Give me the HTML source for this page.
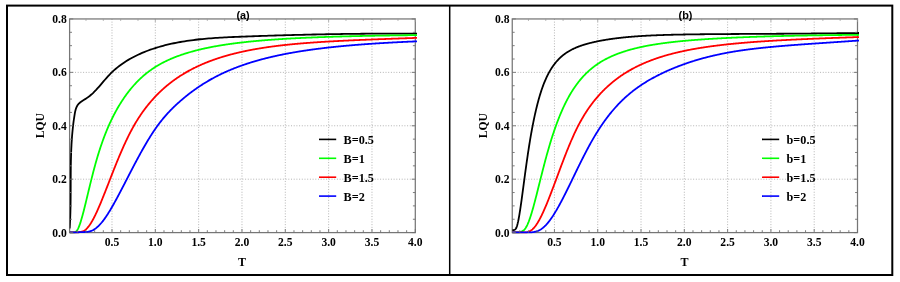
<!DOCTYPE html>
<html><head><meta charset="utf-8"><title>LQU</title>
<style>
html,body{margin:0;padding:0;background:#fff;}
svg{display:block}
text{filter:grayscale(1);}
.g{stroke:#b4b4b4;stroke-width:1;stroke-dasharray:1 1.7;}
.t{stroke:#6f6f6f;stroke-width:0.9;}
.t2{stroke:#9a9a9a;stroke-width:0.8;}
.tk{font-family:"Liberation Serif",serif;font-weight:bold;font-size:11.6px;fill:#000;}
.yl{font-family:"Liberation Serif",serif;font-weight:bold;font-size:11.5px;fill:#000;}
.al{font-family:"Liberation Serif",serif;font-weight:bold;font-size:12px;fill:#000;}
.lg{font-family:"Liberation Serif",serif;font-weight:bold;font-size:12.2px;fill:#000;}
.ti{font-family:"Liberation Sans",sans-serif;font-weight:bold;font-size:10.9px;fill:#000;}
</style></head><body>
<svg width="900" height="282" viewBox="0 0 900 282">
<rect x="0" y="0" width="900" height="282" fill="#fff"/>
<line x1="111.99" y1="18.95" x2="111.99" y2="232.6" class="g"/>
<line x1="155.32" y1="18.95" x2="155.32" y2="232.6" class="g"/>
<line x1="198.65" y1="18.95" x2="198.65" y2="232.6" class="g"/>
<line x1="241.98" y1="18.95" x2="241.98" y2="232.6" class="g"/>
<line x1="285.31" y1="18.95" x2="285.31" y2="232.6" class="g"/>
<line x1="328.64" y1="18.95" x2="328.64" y2="232.6" class="g"/>
<line x1="371.97" y1="18.95" x2="371.97" y2="232.6" class="g"/>
<line x1="69.6" y1="179.19" x2="415.3" y2="179.19" class="g"/>
<line x1="69.6" y1="125.77" x2="415.3" y2="125.77" class="g"/>
<line x1="69.6" y1="72.36" x2="415.3" y2="72.36" class="g"/>
<rect x="69.6" y="18.95" width="345.70000000000005" height="213.65" fill="none" stroke="#767676" stroke-width="1.25"/>
<clipPath id="cB"><rect x="69.69999999999999" y="16.95" width="347.30000000000007" height="216.85"/></clipPath>
<path d="M69.64,228.50 L69.78,226.29 L69.91,224.07 L70.02,221.86 L70.12,219.65 L70.21,217.43 L70.30,215.22 L70.37,213.01 L70.43,210.79 L70.48,208.58 L70.53,206.37 L70.56,204.15 L70.60,201.94 L70.62,199.73 L70.64,197.51 L70.66,195.30 L70.67,193.09 L70.68,190.87 L70.69,188.66 L70.70,186.45 L70.70,184.23 L70.71,182.02 L70.72,179.81 L70.73,177.59 L70.74,175.38 L70.75,173.16 L70.77,170.95 L70.79,168.74 L70.81,166.52 L70.85,164.31 L70.89,162.09 L70.93,159.88 L70.99,157.66 L71.05,155.45 L71.12,153.23 L71.20,151.02 L71.29,148.81 L71.40,146.59 L71.51,144.38 L71.64,142.16 L71.79,139.94 L71.94,137.73 L72.11,135.51 L72.30,133.30 L72.51,131.08 L72.73,128.87 L72.97,126.65 L73.23,124.43 L73.50,122.22 L73.80,120.00 L74.12,117.78 L74.46,115.57 L74.82,113.35 L75.25,111.17 L75.81,109.06 L76.54,107.08 L77.52,105.27 L78.81,103.67 L80.40,102.28 L82.19,101.03 L84.09,99.84 L86.01,98.63 L87.87,97.35 L89.65,95.99 L91.35,94.55 L93.00,93.05 L94.59,91.48 L96.14,89.87 L97.65,88.23 L99.14,86.55 L100.60,84.85 L102.05,83.15 L103.49,81.44 L104.94,79.74 L106.41,78.05 L107.89,76.39 L109.40,74.77 L110.95,73.19 L112.53,71.66 L114.16,70.18 L115.82,68.74 L117.51,67.34 L119.24,65.99 L121.00,64.69 L122.79,63.42 L124.61,62.20 L126.45,61.02 L128.33,59.87 L130.23,58.77 L132.15,57.70 L134.10,56.68 L136.07,55.69 L138.06,54.73 L140.07,53.81 L142.10,52.93 L144.14,52.08 L146.20,51.26 L148.27,50.47 L150.35,49.72 L152.45,48.99 L154.56,48.30 L156.67,47.63 L158.80,46.99 L160.93,46.38 L163.06,45.80 L165.20,45.24 L167.34,44.71 L169.49,44.20 L171.65,43.71 L173.81,43.25 L175.97,42.81 L178.14,42.39 L180.31,42.00 L182.49,41.62 L184.67,41.27 L186.85,40.93 L189.04,40.61 L191.23,40.31 L193.42,40.02 L195.62,39.76 L197.82,39.50 L200.02,39.27 L202.22,39.04 L204.43,38.83 L206.64,38.63 L208.85,38.45 L211.06,38.28 L213.28,38.11 L215.49,37.96 L217.71,37.82 L219.93,37.68 L222.15,37.55 L224.37,37.43 L226.59,37.32 L228.81,37.21 L231.03,37.11 L233.25,37.02 L235.47,36.92 L237.70,36.83 L239.92,36.74 L242.14,36.66 L244.36,36.57 L246.58,36.49 L248.80,36.41 L251.02,36.33 L253.23,36.25 L255.45,36.17 L257.67,36.09 L259.88,36.01 L262.10,35.94 L264.31,35.86 L266.53,35.79 L268.74,35.72 L270.96,35.65 L273.17,35.58 L275.39,35.51 L277.60,35.44 L279.81,35.38 L282.02,35.31 L284.23,35.25 L286.45,35.18 L288.66,35.12 L290.87,35.06 L293.08,35.00 L295.29,34.95 L297.50,34.89 L299.71,34.83 L301.92,34.78 L304.13,34.73 L306.34,34.67 L308.55,34.62 L310.76,34.57 L312.97,34.52 L315.18,34.48 L317.38,34.43 L319.59,34.39 L321.80,34.34 L324.01,34.30 L326.22,34.26 L328.43,34.22 L330.64,34.18 L332.85,34.14 L335.06,34.10 L337.27,34.07 L339.48,34.04 L341.68,34.00 L343.89,33.97 L346.10,33.94 L348.31,33.91 L350.52,33.88 L352.73,33.86 L354.95,33.83 L357.16,33.80 L359.37,33.78 L361.58,33.76 L363.79,33.74 L366.00,33.72 L368.21,33.70 L370.43,33.68 L372.64,33.67 L374.85,33.65 L377.07,33.64 L379.28,33.63 L381.50,33.61 L383.71,33.60 L385.93,33.60 L388.14,33.59 L390.36,33.58 L392.58,33.58 L394.79,33.57 L397.01,33.57 L399.23,33.57 L401.45,33.57 L403.67,33.57 L405.89,33.57 L408.11,33.58 L410.33,33.58 L412.55,33.59 L414.78,33.59 L417.00,33.60" fill="none" stroke="#000000" stroke-width="1.8" stroke-linejoin="round" clip-path="url(#cB)"/>
<path d="M69.53,232.45 L69.96,232.45 L70.40,232.45 L70.83,232.45 L71.27,232.45 L71.70,232.45 L72.14,232.45 L72.57,232.45 L73.01,232.45 L73.44,232.45 L73.88,232.45 L74.31,232.40 L74.75,232.29 L75.18,232.12 L75.61,231.89 L76.05,231.56 L76.48,231.13 L76.92,230.59 L77.35,229.95 L77.79,229.20 L78.22,228.34 L78.66,227.38 L79.09,226.33 L79.53,225.19 L79.96,223.96 L80.40,222.66 L80.83,221.29 L81.27,219.85 L81.70,218.36 L82.14,216.82 L82.57,215.23 L83.01,213.59 L83.44,211.92 L83.88,210.22 L84.31,208.50 L84.75,206.75 L85.18,204.98 L85.62,203.19 L86.05,201.40 L86.49,199.59 L86.92,197.78 L87.36,195.97 L87.79,194.16 L88.23,192.34 L88.66,190.54 L89.10,188.73 L89.53,186.94 L89.97,185.15 L90.40,183.38 L90.84,181.61 L91.27,179.86 L91.71,178.13 L92.14,176.41 L92.58,174.70 L93.01,173.02 L93.45,171.35 L93.88,169.70 L94.32,168.07 L94.75,166.46 L95.18,164.87 L95.62,163.31 L96.05,161.76 L96.49,160.24 L96.92,158.74 L97.36,157.26 L97.79,155.80 L98.23,154.37 L98.66,152.96 L99.10,151.57 L99.53,150.20 L99.97,148.86 L100.40,147.53 L100.84,146.23 L101.27,144.95 L101.71,143.68 L102.14,142.44 L102.58,141.21 L103.01,140.01 L103.45,138.82 L103.88,137.65 L104.32,136.50 L104.75,135.36 L105.19,134.25 L105.62,133.14 L106.06,132.06 L106.49,130.99 L106.93,129.93 L107.36,128.90 L107.80,127.87 L108.23,126.86 L108.67,125.87 L109.10,124.88 L109.54,123.92 L109.97,122.96 L110.41,122.02 L110.84,121.09 L111.28,120.17 L111.71,119.27 L112.15,118.38 L112.58,117.50 L113.02,116.63 L113.45,115.77 L113.88,114.93 L114.32,114.09 L114.75,113.27 L115.19,112.45 L115.62,111.65 L116.06,110.86 L116.49,110.07 L116.93,109.30 L117.36,108.53 L117.80,107.78 L118.23,107.03 L118.67,106.29 L119.10,105.57 L119.54,104.85 L119.97,104.13 L120.41,103.43 L120.84,102.74 L121.28,102.05 L121.71,101.37 L122.15,100.70 L122.58,100.04 L123.02,99.38 L123.45,98.73 L123.89,98.09 L124.32,97.46 L124.76,96.84 L125.19,96.22 L125.63,95.61 L126.06,95.00 L126.50,94.41 L126.93,93.82 L127.37,93.23 L127.80,92.66 L128.24,92.09 L128.67,91.52 L129.11,90.97 L129.54,90.42 L129.98,89.87 L130.41,89.34 L130.85,88.80 L131.28,88.28 L131.72,87.76 L132.15,87.25 L132.58,86.74 L133.02,86.24 L133.45,85.74 L133.89,85.25 L134.32,84.77 L134.76,84.29 L135.19,83.82 L135.63,83.35 L136.06,82.88 L136.50,82.43 L136.93,81.98 L137.37,81.53 L137.80,81.09 L138.24,80.65 L138.67,80.22 L139.11,79.79 L139.54,79.37 L139.98,78.96 L140.41,78.54 L140.85,78.14 L141.28,77.74 L141.72,77.34 L142.15,76.94 L142.59,76.56 L143.02,76.17 L143.46,75.79 L143.89,75.42 L144.33,75.05 L144.76,74.68 L145.20,74.32 L145.63,73.96 L146.07,73.61 L146.50,73.26 L146.94,72.91 L147.37,72.57 L147.81,72.24 L148.24,71.90 L148.68,71.57 L149.11,71.25 L149.55,70.93 L149.98,70.61 L150.42,70.29 L150.85,69.98 L151.29,69.68 L151.72,69.37 L152.15,69.07 L152.59,68.78 L153.02,68.49 L153.46,68.20 L153.89,67.91 L154.33,67.63 L154.76,67.35 L155.20,67.07 L155.63,66.80 L156.07,66.53 L156.50,66.26 L156.94,66.00 L157.37,65.74 L157.81,65.48 L158.24,65.22 L158.68,64.97 L159.11,64.72 L159.55,64.47 L159.98,64.23 L160.42,63.99 L160.85,63.75 L161.29,63.51 L161.72,63.28 L162.16,63.05 L162.59,62.82 L163.03,62.59 L163.46,62.37 L163.90,62.15 L164.33,61.93 L164.77,61.71 L165.20,61.49 L165.64,61.28 L166.07,61.07 L166.51,60.86 L166.94,60.66 L167.38,60.45 L167.81,60.25 L168.25,60.05 L168.68,59.85 L169.12,59.66 L169.55,59.46 L169.99,59.27 L170.42,59.08 L170.85,58.89 L171.29,58.70 L171.72,58.52 L172.16,58.34 L172.59,58.16 L173.03,57.98 L173.46,57.80 L173.90,57.62 L174.33,57.45 L174.77,57.28 L175.20,57.10 L175.64,56.93 L176.07,56.77 L176.51,56.60 L176.94,56.44 L177.38,56.27 L177.81,56.11 L178.25,55.95 L178.68,55.79 L179.12,55.64 L179.55,55.48 L179.99,55.33 L180.42,55.17 L180.86,55.02 L181.29,54.87 L181.73,54.72 L182.16,54.57 L182.60,54.43 L183.03,54.28 L183.47,54.14 L183.90,54.00 L184.34,53.85 L184.77,53.71 L185.21,53.58 L185.64,53.44 L186.08,53.30 L186.51,53.17 L186.95,53.03 L187.38,52.90 L187.82,52.77 L188.25,52.64 L188.69,52.51 L189.12,52.38 L189.55,52.25 L189.99,52.13 L190.42,52.00 L190.86,51.88 L191.29,51.75 L191.73,51.63 L192.16,51.51 L192.60,51.39 L193.03,51.27 L193.47,51.15 L193.90,51.04 L194.34,50.92 L194.77,50.81 L195.21,50.69 L195.64,50.58 L196.08,50.47 L196.51,50.36 L196.95,50.25 L197.38,50.14 L197.82,50.03 L198.25,49.92 L198.69,49.81 L199.12,49.71 L199.56,49.60 L199.99,49.50 L200.43,49.40 L200.86,49.29 L201.30,49.19 L201.73,49.09 L202.17,48.99 L202.60,48.89 L203.04,48.79 L203.47,48.70 L203.91,48.60 L204.34,48.50 L204.78,48.41 L205.21,48.31 L205.65,48.22 L206.08,48.13 L206.52,48.03 L206.95,47.94 L207.39,47.85 L207.82,47.76 L208.26,47.67 L208.69,47.58 L209.12,47.50 L209.56,47.41 L209.99,47.32 L210.43,47.24 L210.86,47.15 L211.30,47.07 L211.73,46.98 L212.17,46.90 L212.60,46.82 L213.04,46.73 L213.47,46.65 L213.91,46.57 L214.34,46.49 L214.78,46.41 L215.21,46.33 L215.65,46.26 L216.08,46.18 L216.52,46.10 L216.95,46.02 L217.39,45.95 L217.82,45.87 L218.26,45.80 L218.69,45.72 L219.13,45.65 L219.56,45.58 L220.00,45.50 L220.43,45.43 L220.87,45.36 L221.30,45.29 L221.74,45.22 L222.17,45.15 L222.61,45.08 L223.04,45.01 L223.48,44.94 L223.91,44.88 L224.35,44.81 L224.78,44.74 L225.22,44.68 L225.65,44.61 L226.09,44.54 L226.52,44.48 L226.96,44.42 L227.39,44.35 L227.82,44.29 L228.26,44.22 L228.69,44.16 L229.13,44.10 L229.56,44.04 L230.00,43.98 L230.43,43.92 L230.87,43.86 L231.30,43.80 L231.74,43.74 L232.17,43.68 L232.61,43.62 L233.04,43.56 L233.48,43.50 L233.91,43.45 L234.35,43.39 L234.78,43.33 L235.22,43.28 L235.65,43.22 L236.09,43.17 L236.52,43.11 L236.96,43.06 L237.39,43.00 L237.83,42.95 L238.26,42.90 L238.70,42.84 L239.13,42.79 L239.57,42.74 L240.00,42.69 L240.44,42.64 L240.87,42.58 L241.31,42.53 L241.74,42.48 L242.18,42.43 L242.61,42.38 L243.05,42.33 L243.48,42.28 L243.92,42.24 L244.35,42.19 L244.79,42.14 L245.22,42.09 L245.66,42.04 L246.09,42.00 L246.52,41.95 L246.96,41.90 L247.39,41.86 L247.83,41.81 L248.26,41.77 L248.70,41.72 L249.13,41.68 L249.57,41.63 L250.00,41.59 L250.44,41.54 L250.87,41.50 L251.31,41.46 L251.74,41.41 L252.18,41.37 L252.61,41.33 L253.05,41.29 L253.48,41.25 L253.92,41.20 L254.35,41.16 L254.79,41.12 L255.22,41.08 L255.66,41.04 L256.09,41.00 L256.53,40.96 L256.96,40.92 L257.40,40.88 L257.83,40.84 L258.27,40.80 L258.70,40.76 L259.14,40.73 L259.57,40.69 L260.01,40.65 L260.44,40.61 L260.88,40.57 L261.31,40.54 L261.75,40.50 L262.18,40.46 L262.62,40.43 L263.05,40.39 L263.49,40.36 L263.92,40.32 L264.36,40.28 L264.79,40.25 L265.23,40.21 L265.66,40.18 L266.09,40.14 L266.53,40.11 L266.96,40.08 L267.40,40.04 L267.83,40.01 L268.27,39.97 L268.70,39.94 L269.14,39.91 L269.57,39.88 L270.01,39.84 L270.44,39.81 L270.88,39.78 L271.31,39.75 L271.75,39.71 L272.18,39.68 L272.62,39.65 L273.05,39.62 L273.49,39.59 L273.92,39.56 L274.36,39.53 L274.79,39.50 L275.23,39.47 L275.66,39.44 L276.10,39.41 L276.53,39.38 L276.97,39.35 L277.40,39.32 L277.84,39.29 L278.27,39.26 L278.71,39.23 L279.14,39.20 L279.58,39.18 L280.01,39.15 L280.45,39.12 L280.88,39.09 L281.32,39.06 L281.75,39.04 L282.19,39.01 L282.62,38.98 L283.06,38.95 L283.49,38.93 L283.93,38.90 L284.36,38.88 L284.79,38.85 L285.23,38.82 L285.66,38.80 L286.10,38.77 L286.53,38.75 L286.97,38.72 L287.40,38.69 L287.84,38.67 L288.27,38.64 L288.71,38.62 L289.14,38.59 L289.58,38.57 L290.01,38.55 L290.45,38.52 L290.88,38.50 L291.32,38.47 L291.75,38.45 L292.19,38.43 L292.62,38.40 L293.06,38.38 L293.49,38.36 L293.93,38.33 L294.36,38.31 L294.80,38.29 L295.23,38.26 L295.67,38.24 L296.10,38.22 L296.54,38.20 L296.97,38.17 L297.41,38.15 L297.84,38.13 L298.28,38.11 L298.71,38.09 L299.15,38.07 L299.58,38.04 L300.02,38.02 L300.45,38.00 L300.89,37.98 L301.32,37.96 L301.76,37.94 L302.19,37.92 L302.63,37.90 L303.06,37.88 L303.49,37.86 L303.93,37.84 L304.36,37.82 L304.80,37.80 L305.23,37.78 L305.67,37.76 L306.10,37.74 L306.54,37.72 L306.97,37.70 L307.41,37.68 L307.84,37.66 L308.28,37.64 L308.71,37.62 L309.15,37.61 L309.58,37.59 L310.02,37.57 L310.45,37.55 L310.89,37.53 L311.32,37.51 L311.76,37.50 L312.19,37.48 L312.63,37.46 L313.06,37.44 L313.50,37.43 L313.93,37.41 L314.37,37.39 L314.80,37.37 L315.24,37.36 L315.67,37.34 L316.11,37.32 L316.54,37.30 L316.98,37.29 L317.41,37.27 L317.85,37.25 L318.28,37.24 L318.72,37.22 L319.15,37.21 L319.59,37.19 L320.02,37.17 L320.46,37.16 L320.89,37.14 L321.33,37.13 L321.76,37.11 L322.19,37.09 L322.63,37.08 L323.06,37.06 L323.50,37.05 L323.93,37.03 L324.37,37.02 L324.80,37.00 L325.24,36.99 L325.67,36.97 L326.11,36.96 L326.54,36.94 L326.98,36.93 L327.41,36.91 L327.85,36.90 L328.28,36.88 L328.72,36.87 L329.15,36.86 L329.59,36.84 L330.02,36.83 L330.46,36.81 L330.89,36.80 L331.33,36.79 L331.76,36.77 L332.20,36.76 L332.63,36.74 L333.07,36.73 L333.50,36.72 L333.94,36.70 L334.37,36.69 L334.81,36.68 L335.24,36.66 L335.68,36.65 L336.11,36.64 L336.55,36.62 L336.98,36.61 L337.42,36.60 L337.85,36.59 L338.29,36.57 L338.72,36.56 L339.16,36.55 L339.59,36.54 L340.03,36.52 L340.46,36.51 L340.90,36.50 L341.33,36.49 L341.76,36.48 L342.20,36.46 L342.63,36.45 L343.07,36.44 L343.50,36.43 L343.94,36.42 L344.37,36.40 L344.81,36.39 L345.24,36.38 L345.68,36.37 L346.11,36.36 L346.55,36.35 L346.98,36.33 L347.42,36.32 L347.85,36.31 L348.29,36.30 L348.72,36.29 L349.16,36.28 L349.59,36.27 L350.03,36.26 L350.46,36.25 L350.90,36.24 L351.33,36.23 L351.77,36.21 L352.20,36.20 L352.64,36.19 L353.07,36.18 L353.51,36.17 L353.94,36.16 L354.38,36.15 L354.81,36.14 L355.25,36.13 L355.68,36.12 L356.12,36.11 L356.55,36.10 L356.99,36.09 L357.42,36.08 L357.86,36.07 L358.29,36.06 L358.73,36.05 L359.16,36.04 L359.60,36.03 L360.03,36.02 L360.46,36.01 L360.90,36.00 L361.33,35.99 L361.77,35.99 L362.20,35.98 L362.64,35.97 L363.07,35.96 L363.51,35.95 L363.94,35.94 L364.38,35.93 L364.81,35.92 L365.25,35.91 L365.68,35.90 L366.12,35.89 L366.55,35.89 L366.99,35.88 L367.42,35.87 L367.86,35.86 L368.29,35.85 L368.73,35.84 L369.16,35.83 L369.60,35.82 L370.03,35.82 L370.47,35.81 L370.90,35.80 L371.34,35.79 L371.77,35.78 L372.21,35.77 L372.64,35.77 L373.08,35.76 L373.51,35.75 L373.95,35.74 L374.38,35.73 L374.82,35.73 L375.25,35.72 L375.69,35.71 L376.12,35.70 L376.56,35.69 L376.99,35.69 L377.43,35.68 L377.86,35.67 L378.30,35.66 L378.73,35.66 L379.16,35.65 L379.60,35.64 L380.03,35.63 L380.47,35.63 L380.90,35.62 L381.34,35.61 L381.77,35.60 L382.21,35.60 L382.64,35.59 L383.08,35.58 L383.51,35.57 L383.95,35.57 L384.38,35.56 L384.82,35.55 L385.25,35.55 L385.69,35.54 L386.12,35.53 L386.56,35.52 L386.99,35.52 L387.43,35.51 L387.86,35.50 L388.30,35.50 L388.73,35.49 L389.17,35.48 L389.60,35.48 L390.04,35.47 L390.47,35.46 L390.91,35.46 L391.34,35.45 L391.78,35.44 L392.21,35.44 L392.65,35.43 L393.08,35.42 L393.52,35.42 L393.95,35.41 L394.39,35.40 L394.82,35.40 L395.26,35.39 L395.69,35.39 L396.13,35.38 L396.56,35.37 L397.00,35.37 L397.43,35.36 L397.87,35.36 L398.30,35.35 L398.73,35.34 L399.17,35.34 L399.60,35.33 L400.04,35.32 L400.47,35.32 L400.91,35.31 L401.34,35.31 L401.78,35.30 L402.21,35.30 L402.65,35.29 L403.08,35.28 L403.52,35.28 L403.95,35.27 L404.39,35.27 L404.82,35.26 L405.26,35.26 L405.69,35.25 L406.13,35.24 L406.56,35.24 L407.00,35.23 L407.43,35.23 L407.87,35.22 L408.30,35.22 L408.74,35.21 L409.17,35.21 L409.61,35.20 L410.04,35.19 L410.48,35.19 L410.91,35.18 L411.35,35.18 L411.78,35.17 L412.22,35.17 L412.65,35.16 L413.09,35.16 L413.52,35.15 L413.96,35.15 L414.39,35.14 L414.83,35.14 L415.26,35.13 L415.70,35.13 L416.13,35.12 L416.57,35.12 L417.00,35.11" fill="none" stroke="#00ff00" stroke-width="1.8" stroke-linejoin="round" clip-path="url(#cB)"/>
<path d="M69.53,232.45 L69.96,232.45 L70.40,232.45 L70.83,232.45 L71.27,232.45 L71.70,232.45 L72.14,232.45 L72.57,232.45 L73.01,232.45 L73.44,232.45 L73.88,232.45 L74.31,232.45 L74.75,232.45 L75.18,232.45 L75.61,232.45 L76.05,232.45 L76.48,232.43 L76.92,232.41 L77.35,232.37 L77.79,232.32 L78.22,232.27 L78.66,232.21 L79.09,232.14 L79.53,232.07 L79.96,231.99 L80.40,231.91 L80.83,231.82 L81.27,231.74 L81.70,231.64 L82.14,231.52 L82.57,231.37 L83.01,231.20 L83.44,231.00 L83.88,230.78 L84.31,230.52 L84.75,230.24 L85.18,229.93 L85.62,229.59 L86.05,229.22 L86.49,228.82 L86.92,228.39 L87.36,227.93 L87.79,227.44 L88.23,226.93 L88.66,226.38 L89.10,225.81 L89.53,225.21 L89.97,224.58 L90.40,223.93 L90.84,223.25 L91.27,222.55 L91.71,221.82 L92.14,221.08 L92.58,220.31 L93.01,219.52 L93.45,218.70 L93.88,217.87 L94.32,217.02 L94.75,216.16 L95.18,215.27 L95.62,214.37 L96.05,213.45 L96.49,212.52 L96.92,211.57 L97.36,210.61 L97.79,209.64 L98.23,208.66 L98.66,207.66 L99.10,206.65 L99.53,205.63 L99.97,204.61 L100.40,203.57 L100.84,202.53 L101.27,201.47 L101.71,200.41 L102.14,199.35 L102.58,198.27 L103.01,197.20 L103.45,196.11 L103.88,195.02 L104.32,193.93 L104.75,192.83 L105.19,191.73 L105.62,190.63 L106.06,189.52 L106.49,188.42 L106.93,187.31 L107.36,186.19 L107.80,185.08 L108.23,183.97 L108.67,182.85 L109.10,181.74 L109.54,180.62 L109.97,179.51 L110.41,178.40 L110.84,177.28 L111.28,176.17 L111.71,175.06 L112.15,173.95 L112.58,172.85 L113.02,171.74 L113.45,170.64 L113.88,169.54 L114.32,168.45 L114.75,167.36 L115.19,166.27 L115.62,165.19 L116.06,164.11 L116.49,163.03 L116.93,161.96 L117.36,160.90 L117.80,159.84 L118.23,158.78 L118.67,157.74 L119.10,156.69 L119.54,155.66 L119.97,154.63 L120.41,153.60 L120.84,152.59 L121.28,151.58 L121.71,150.58 L122.15,149.58 L122.58,148.59 L123.02,147.61 L123.45,146.64 L123.89,145.67 L124.32,144.71 L124.76,143.76 L125.19,142.82 L125.63,141.89 L126.06,140.96 L126.50,140.04 L126.93,139.13 L127.37,138.23 L127.80,137.34 L128.24,136.46 L128.67,135.58 L129.11,134.71 L129.54,133.86 L129.98,133.01 L130.41,132.17 L130.85,131.34 L131.28,130.52 L131.72,129.70 L132.15,128.90 L132.58,128.10 L133.02,127.32 L133.45,126.54 L133.89,125.78 L134.32,125.02 L134.76,124.27 L135.19,123.52 L135.63,122.79 L136.06,122.07 L136.50,121.35 L136.93,120.64 L137.37,119.94 L137.80,119.25 L138.24,118.56 L138.67,117.88 L139.11,117.21 L139.54,116.55 L139.98,115.89 L140.41,115.24 L140.85,114.60 L141.28,113.97 L141.72,113.34 L142.15,112.72 L142.59,112.10 L143.02,111.49 L143.46,110.89 L143.89,110.29 L144.33,109.70 L144.76,109.12 L145.20,108.54 L145.63,107.97 L146.07,107.40 L146.50,106.84 L146.94,106.29 L147.37,105.74 L147.81,105.19 L148.24,104.66 L148.68,104.12 L149.11,103.59 L149.55,103.07 L149.98,102.55 L150.42,102.04 L150.85,101.53 L151.29,101.03 L151.72,100.53 L152.15,100.04 L152.59,99.55 L153.02,99.06 L153.46,98.58 L153.89,98.10 L154.33,97.63 L154.76,97.17 L155.20,96.70 L155.63,96.24 L156.07,95.79 L156.50,95.34 L156.94,94.89 L157.37,94.45 L157.81,94.01 L158.24,93.58 L158.68,93.15 L159.11,92.72 L159.55,92.30 L159.98,91.88 L160.42,91.46 L160.85,91.05 L161.29,90.64 L161.72,90.24 L162.16,89.84 L162.59,89.44 L163.03,89.05 L163.46,88.66 L163.90,88.27 L164.33,87.89 L164.77,87.51 L165.20,87.13 L165.64,86.76 L166.07,86.39 L166.51,86.02 L166.94,85.66 L167.38,85.30 L167.81,84.94 L168.25,84.58 L168.68,84.23 L169.12,83.88 L169.55,83.54 L169.99,83.20 L170.42,82.86 L170.85,82.52 L171.29,82.19 L171.72,81.86 L172.16,81.53 L172.59,81.20 L173.03,80.88 L173.46,80.56 L173.90,80.24 L174.33,79.93 L174.77,79.62 L175.20,79.31 L175.64,79.00 L176.07,78.70 L176.51,78.40 L176.94,78.10 L177.38,77.80 L177.81,77.51 L178.25,77.21 L178.68,76.93 L179.12,76.64 L179.55,76.35 L179.99,76.07 L180.42,75.79 L180.86,75.51 L181.29,75.24 L181.73,74.97 L182.16,74.69 L182.60,74.43 L183.03,74.16 L183.47,73.89 L183.90,73.63 L184.34,73.37 L184.77,73.11 L185.21,72.86 L185.64,72.60 L186.08,72.35 L186.51,72.10 L186.95,71.85 L187.38,71.61 L187.82,71.36 L188.25,71.12 L188.69,70.88 L189.12,70.64 L189.55,70.41 L189.99,70.17 L190.42,69.94 L190.86,69.71 L191.29,69.48 L191.73,69.25 L192.16,69.03 L192.60,68.80 L193.03,68.58 L193.47,68.36 L193.90,68.14 L194.34,67.93 L194.77,67.71 L195.21,67.50 L195.64,67.28 L196.08,67.07 L196.51,66.87 L196.95,66.66 L197.38,66.45 L197.82,66.25 L198.25,66.05 L198.69,65.85 L199.12,65.65 L199.56,65.45 L199.99,65.25 L200.43,65.06 L200.86,64.86 L201.30,64.67 L201.73,64.48 L202.17,64.29 L202.60,64.11 L203.04,63.92 L203.47,63.73 L203.91,63.55 L204.34,63.37 L204.78,63.19 L205.21,63.01 L205.65,62.83 L206.08,62.66 L206.52,62.48 L206.95,62.31 L207.39,62.13 L207.82,61.96 L208.26,61.79 L208.69,61.62 L209.12,61.46 L209.56,61.29 L209.99,61.13 L210.43,60.96 L210.86,60.80 L211.30,60.64 L211.73,60.48 L212.17,60.32 L212.60,60.16 L213.04,60.00 L213.47,59.85 L213.91,59.69 L214.34,59.54 L214.78,59.39 L215.21,59.24 L215.65,59.09 L216.08,58.94 L216.52,58.79 L216.95,58.65 L217.39,58.50 L217.82,58.36 L218.26,58.21 L218.69,58.07 L219.13,57.93 L219.56,57.79 L220.00,57.65 L220.43,57.51 L220.87,57.37 L221.30,57.24 L221.74,57.10 L222.17,56.97 L222.61,56.84 L223.04,56.70 L223.48,56.57 L223.91,56.44 L224.35,56.31 L224.78,56.18 L225.22,56.06 L225.65,55.93 L226.09,55.81 L226.52,55.68 L226.96,55.56 L227.39,55.43 L227.82,55.31 L228.26,55.19 L228.69,55.07 L229.13,54.95 L229.56,54.83 L230.00,54.71 L230.43,54.60 L230.87,54.48 L231.30,54.37 L231.74,54.25 L232.17,54.14 L232.61,54.03 L233.04,53.91 L233.48,53.80 L233.91,53.69 L234.35,53.58 L234.78,53.48 L235.22,53.37 L235.65,53.26 L236.09,53.15 L236.52,53.05 L236.96,52.94 L237.39,52.84 L237.83,52.74 L238.26,52.63 L238.70,52.53 L239.13,52.43 L239.57,52.33 L240.00,52.23 L240.44,52.13 L240.87,52.03 L241.31,51.94 L241.74,51.84 L242.18,51.74 L242.61,51.65 L243.05,51.55 L243.48,51.46 L243.92,51.37 L244.35,51.27 L244.79,51.18 L245.22,51.09 L245.66,51.00 L246.09,50.91 L246.52,50.82 L246.96,50.73 L247.39,50.64 L247.83,50.55 L248.26,50.47 L248.70,50.38 L249.13,50.30 L249.57,50.21 L250.00,50.13 L250.44,50.04 L250.87,49.96 L251.31,49.88 L251.74,49.79 L252.18,49.71 L252.61,49.63 L253.05,49.55 L253.48,49.47 L253.92,49.39 L254.35,49.31 L254.79,49.24 L255.22,49.16 L255.66,49.08 L256.09,49.01 L256.53,48.93 L256.96,48.85 L257.40,48.78 L257.83,48.71 L258.27,48.63 L258.70,48.56 L259.14,48.49 L259.57,48.41 L260.01,48.34 L260.44,48.27 L260.88,48.20 L261.31,48.13 L261.75,48.06 L262.18,47.99 L262.62,47.92 L263.05,47.85 L263.49,47.79 L263.92,47.72 L264.36,47.65 L264.79,47.59 L265.23,47.52 L265.66,47.46 L266.09,47.39 L266.53,47.33 L266.96,47.26 L267.40,47.20 L267.83,47.14 L268.27,47.08 L268.70,47.01 L269.14,46.95 L269.57,46.89 L270.01,46.83 L270.44,46.77 L270.88,46.71 L271.31,46.65 L271.75,46.59 L272.18,46.53 L272.62,46.47 L273.05,46.42 L273.49,46.36 L273.92,46.30 L274.36,46.25 L274.79,46.19 L275.23,46.14 L275.66,46.08 L276.10,46.03 L276.53,45.97 L276.97,45.92 L277.40,45.86 L277.84,45.81 L278.27,45.76 L278.71,45.70 L279.14,45.65 L279.58,45.60 L280.01,45.55 L280.45,45.50 L280.88,45.45 L281.32,45.40 L281.75,45.35 L282.19,45.30 L282.62,45.25 L283.06,45.20 L283.49,45.15 L283.93,45.10 L284.36,45.06 L284.79,45.01 L285.23,44.96 L285.66,44.91 L286.10,44.87 L286.53,44.82 L286.97,44.78 L287.40,44.73 L287.84,44.69 L288.27,44.64 L288.71,44.60 L289.14,44.55 L289.58,44.51 L290.01,44.46 L290.45,44.42 L290.88,44.38 L291.32,44.34 L291.75,44.29 L292.19,44.25 L292.62,44.21 L293.06,44.17 L293.49,44.13 L293.93,44.09 L294.36,44.05 L294.80,44.00 L295.23,43.96 L295.67,43.92 L296.10,43.89 L296.54,43.85 L296.97,43.81 L297.41,43.77 L297.84,43.73 L298.28,43.69 L298.71,43.65 L299.15,43.62 L299.58,43.58 L300.02,43.54 L300.45,43.50 L300.89,43.47 L301.32,43.43 L301.76,43.39 L302.19,43.36 L302.63,43.32 L303.06,43.29 L303.49,43.25 L303.93,43.22 L304.36,43.18 L304.80,43.15 L305.23,43.11 L305.67,43.08 L306.10,43.04 L306.54,43.01 L306.97,42.98 L307.41,42.94 L307.84,42.91 L308.28,42.88 L308.71,42.84 L309.15,42.81 L309.58,42.78 L310.02,42.75 L310.45,42.71 L310.89,42.68 L311.32,42.65 L311.76,42.62 L312.19,42.59 L312.63,42.56 L313.06,42.53 L313.50,42.49 L313.93,42.46 L314.37,42.43 L314.80,42.40 L315.24,42.37 L315.67,42.34 L316.11,42.31 L316.54,42.28 L316.98,42.26 L317.41,42.23 L317.85,42.20 L318.28,42.17 L318.72,42.14 L319.15,42.11 L319.59,42.08 L320.02,42.06 L320.46,42.03 L320.89,42.00 L321.33,41.97 L321.76,41.94 L322.19,41.92 L322.63,41.89 L323.06,41.86 L323.50,41.84 L323.93,41.81 L324.37,41.78 L324.80,41.76 L325.24,41.73 L325.67,41.70 L326.11,41.68 L326.54,41.65 L326.98,41.63 L327.41,41.60 L327.85,41.58 L328.28,41.55 L328.72,41.53 L329.15,41.50 L329.59,41.48 L330.02,41.45 L330.46,41.43 L330.89,41.40 L331.33,41.38 L331.76,41.35 L332.20,41.33 L332.63,41.30 L333.07,41.28 L333.50,41.26 L333.94,41.23 L334.37,41.21 L334.81,41.19 L335.24,41.16 L335.68,41.14 L336.11,41.12 L336.55,41.09 L336.98,41.07 L337.42,41.05 L337.85,41.02 L338.29,41.00 L338.72,40.98 L339.16,40.96 L339.59,40.94 L340.03,40.91 L340.46,40.89 L340.90,40.87 L341.33,40.85 L341.76,40.83 L342.20,40.80 L342.63,40.78 L343.07,40.76 L343.50,40.74 L343.94,40.72 L344.37,40.70 L344.81,40.68 L345.24,40.65 L345.68,40.63 L346.11,40.61 L346.55,40.59 L346.98,40.57 L347.42,40.55 L347.85,40.53 L348.29,40.51 L348.72,40.49 L349.16,40.47 L349.59,40.45 L350.03,40.43 L350.46,40.41 L350.90,40.39 L351.33,40.37 L351.77,40.35 L352.20,40.33 L352.64,40.31 L353.07,40.29 L353.51,40.27 L353.94,40.25 L354.38,40.23 L354.81,40.21 L355.25,40.19 L355.68,40.17 L356.12,40.16 L356.55,40.14 L356.99,40.12 L357.42,40.10 L357.86,40.08 L358.29,40.06 L358.73,40.04 L359.16,40.02 L359.60,40.01 L360.03,39.99 L360.46,39.97 L360.90,39.95 L361.33,39.93 L361.77,39.91 L362.20,39.89 L362.64,39.88 L363.07,39.86 L363.51,39.84 L363.94,39.82 L364.38,39.80 L364.81,39.79 L365.25,39.77 L365.68,39.75 L366.12,39.73 L366.55,39.72 L366.99,39.70 L367.42,39.68 L367.86,39.66 L368.29,39.65 L368.73,39.63 L369.16,39.61 L369.60,39.59 L370.03,39.58 L370.47,39.56 L370.90,39.54 L371.34,39.52 L371.77,39.51 L372.21,39.49 L372.64,39.47 L373.08,39.46 L373.51,39.44 L373.95,39.42 L374.38,39.41 L374.82,39.39 L375.25,39.37 L375.69,39.35 L376.12,39.34 L376.56,39.32 L376.99,39.30 L377.43,39.29 L377.86,39.27 L378.30,39.25 L378.73,39.24 L379.16,39.22 L379.60,39.21 L380.03,39.19 L380.47,39.17 L380.90,39.16 L381.34,39.14 L381.77,39.12 L382.21,39.11 L382.64,39.09 L383.08,39.07 L383.51,39.06 L383.95,39.04 L384.38,39.03 L384.82,39.01 L385.25,38.99 L385.69,38.98 L386.12,38.96 L386.56,38.95 L386.99,38.93 L387.43,38.91 L387.86,38.90 L388.30,38.88 L388.73,38.87 L389.17,38.85 L389.60,38.83 L390.04,38.82 L390.47,38.80 L390.91,38.79 L391.34,38.77 L391.78,38.76 L392.21,38.74 L392.65,38.72 L393.08,38.71 L393.52,38.69 L393.95,38.68 L394.39,38.66 L394.82,38.65 L395.26,38.63 L395.69,38.61 L396.13,38.60 L396.56,38.58 L397.00,38.57 L397.43,38.55 L397.87,38.54 L398.30,38.52 L398.73,38.51 L399.17,38.49 L399.60,38.47 L400.04,38.46 L400.47,38.44 L400.91,38.43 L401.34,38.41 L401.78,38.40 L402.21,38.38 L402.65,38.37 L403.08,38.35 L403.52,38.33 L403.95,38.32 L404.39,38.30 L404.82,38.29 L405.26,38.27 L405.69,38.26 L406.13,38.24 L406.56,38.23 L407.00,38.21 L407.43,38.20 L407.87,38.18 L408.30,38.17 L408.74,38.15 L409.17,38.13 L409.61,38.12 L410.04,38.10 L410.48,38.09 L410.91,38.07 L411.35,38.06 L411.78,38.04 L412.22,38.03 L412.65,38.01 L413.09,38.00 L413.52,37.98 L413.96,37.97 L414.39,37.95 L414.83,37.94 L415.26,37.92 L415.70,37.91 L416.13,37.89 L416.57,37.87 L417.00,37.86" fill="none" stroke="#ff0000" stroke-width="1.8" stroke-linejoin="round" clip-path="url(#cB)"/>
<path d="M69.53,232.45 L69.96,232.45 L70.40,232.45 L70.83,232.45 L71.27,232.45 L71.70,232.45 L72.14,232.45 L72.57,232.45 L73.01,232.45 L73.44,232.45 L73.88,232.44 L74.31,232.43 L74.75,232.42 L75.18,232.40 L75.61,232.39 L76.05,232.37 L76.48,232.35 L76.92,232.34 L77.35,232.32 L77.79,232.30 L78.22,232.28 L78.66,232.26 L79.09,232.24 L79.53,232.22 L79.96,232.21 L80.40,232.19 L80.83,232.17 L81.27,232.15 L81.70,232.13 L82.14,232.11 L82.57,232.09 L83.01,232.07 L83.44,232.06 L83.88,232.04 L84.31,232.02 L84.75,232.00 L85.18,231.98 L85.62,231.96 L86.05,231.95 L86.49,231.92 L86.92,231.89 L87.36,231.84 L87.79,231.78 L88.23,231.72 L88.66,231.64 L89.10,231.55 L89.53,231.44 L89.97,231.32 L90.40,231.19 L90.84,231.05 L91.27,230.89 L91.71,230.72 L92.14,230.53 L92.58,230.33 L93.01,230.11 L93.45,229.87 L93.88,229.62 L94.32,229.36 L94.75,229.08 L95.18,228.78 L95.62,228.47 L96.05,228.14 L96.49,227.79 L96.92,227.43 L97.36,227.06 L97.79,226.67 L98.23,226.26 L98.66,225.84 L99.10,225.40 L99.53,224.95 L99.97,224.49 L100.40,224.01 L100.84,223.51 L101.27,223.01 L101.71,222.49 L102.14,221.95 L102.58,221.41 L103.01,220.85 L103.45,220.28 L103.88,219.70 L104.32,219.10 L104.75,218.50 L105.19,217.88 L105.62,217.25 L106.06,216.62 L106.49,215.97 L106.93,215.31 L107.36,214.64 L107.80,213.97 L108.23,213.28 L108.67,212.59 L109.10,211.89 L109.54,211.18 L109.97,210.46 L110.41,209.74 L110.84,209.00 L111.28,208.27 L111.71,207.52 L112.15,206.77 L112.58,206.01 L113.02,205.25 L113.45,204.48 L113.88,203.70 L114.32,202.92 L114.75,202.14 L115.19,201.35 L115.62,200.55 L116.06,199.75 L116.49,198.95 L116.93,198.15 L117.36,197.34 L117.80,196.52 L118.23,195.71 L118.67,194.89 L119.10,194.06 L119.54,193.24 L119.97,192.41 L120.41,191.58 L120.84,190.75 L121.28,189.92 L121.71,189.08 L122.15,188.25 L122.58,187.41 L123.02,186.57 L123.45,185.73 L123.89,184.89 L124.32,184.05 L124.76,183.21 L125.19,182.36 L125.63,181.52 L126.06,180.68 L126.50,179.83 L126.93,178.99 L127.37,178.15 L127.80,177.30 L128.24,176.46 L128.67,175.62 L129.11,174.78 L129.54,173.94 L129.98,173.10 L130.41,172.26 L130.85,171.42 L131.28,170.58 L131.72,169.75 L132.15,168.91 L132.58,168.08 L133.02,167.25 L133.45,166.42 L133.89,165.59 L134.32,164.77 L134.76,163.94 L135.19,163.12 L135.63,162.30 L136.06,161.48 L136.50,160.66 L136.93,159.85 L137.37,159.04 L137.80,158.23 L138.24,157.42 L138.67,156.62 L139.11,155.82 L139.54,155.02 L139.98,154.22 L140.41,153.43 L140.85,152.64 L141.28,151.86 L141.72,151.08 L142.15,150.30 L142.59,149.52 L143.02,148.75 L143.46,147.99 L143.89,147.22 L144.33,146.46 L144.76,145.71 L145.20,144.96 L145.63,144.21 L146.07,143.47 L146.50,142.74 L146.94,142.00 L147.37,141.28 L147.81,140.55 L148.24,139.83 L148.68,139.12 L149.11,138.41 L149.55,137.71 L149.98,137.01 L150.42,136.32 L150.85,135.63 L151.29,134.95 L151.72,134.27 L152.15,133.60 L152.59,132.94 L153.02,132.28 L153.46,131.62 L153.89,130.97 L154.33,130.33 L154.76,129.69 L155.20,129.06 L155.63,128.43 L156.07,127.81 L156.50,127.20 L156.94,126.59 L157.37,125.98 L157.81,125.39 L158.24,124.80 L158.68,124.21 L159.11,123.63 L159.55,123.06 L159.98,122.49 L160.42,121.93 L160.85,121.37 L161.29,120.82 L161.72,120.28 L162.16,119.74 L162.59,119.21 L163.03,118.68 L163.46,118.16 L163.90,117.64 L164.33,117.12 L164.77,116.62 L165.20,116.11 L165.64,115.61 L166.07,115.12 L166.51,114.63 L166.94,114.14 L167.38,113.66 L167.81,113.19 L168.25,112.72 L168.68,112.25 L169.12,111.78 L169.55,111.32 L169.99,110.87 L170.42,110.42 L170.85,109.97 L171.29,109.52 L171.72,109.08 L172.16,108.65 L172.59,108.21 L173.03,107.78 L173.46,107.36 L173.90,106.93 L174.33,106.51 L174.77,106.10 L175.20,105.68 L175.64,105.27 L176.07,104.87 L176.51,104.46 L176.94,104.06 L177.38,103.66 L177.81,103.27 L178.25,102.87 L178.68,102.48 L179.12,102.10 L179.55,101.71 L179.99,101.33 L180.42,100.95 L180.86,100.57 L181.29,100.19 L181.73,99.82 L182.16,99.45 L182.60,99.08 L183.03,98.72 L183.47,98.35 L183.90,97.99 L184.34,97.63 L184.77,97.27 L185.21,96.92 L185.64,96.56 L186.08,96.21 L186.51,95.86 L186.95,95.52 L187.38,95.17 L187.82,94.83 L188.25,94.49 L188.69,94.15 L189.12,93.81 L189.55,93.48 L189.99,93.15 L190.42,92.82 L190.86,92.49 L191.29,92.16 L191.73,91.84 L192.16,91.51 L192.60,91.19 L193.03,90.87 L193.47,90.56 L193.90,90.24 L194.34,89.93 L194.77,89.62 L195.21,89.31 L195.64,89.00 L196.08,88.70 L196.51,88.39 L196.95,88.09 L197.38,87.79 L197.82,87.49 L198.25,87.20 L198.69,86.90 L199.12,86.61 L199.56,86.32 L199.99,86.03 L200.43,85.75 L200.86,85.46 L201.30,85.18 L201.73,84.90 L202.17,84.62 L202.60,84.34 L203.04,84.06 L203.47,83.79 L203.91,83.52 L204.34,83.25 L204.78,82.98 L205.21,82.71 L205.65,82.44 L206.08,82.18 L206.52,81.92 L206.95,81.66 L207.39,81.40 L207.82,81.14 L208.26,80.89 L208.69,80.63 L209.12,80.38 L209.56,80.13 L209.99,79.88 L210.43,79.63 L210.86,79.39 L211.30,79.14 L211.73,78.90 L212.17,78.66 L212.60,78.42 L213.04,78.18 L213.47,77.95 L213.91,77.71 L214.34,77.48 L214.78,77.25 L215.21,77.02 L215.65,76.79 L216.08,76.56 L216.52,76.34 L216.95,76.11 L217.39,75.89 L217.82,75.67 L218.26,75.45 L218.69,75.23 L219.13,75.02 L219.56,74.80 L220.00,74.59 L220.43,74.38 L220.87,74.17 L221.30,73.96 L221.74,73.75 L222.17,73.54 L222.61,73.34 L223.04,73.13 L223.48,72.93 L223.91,72.73 L224.35,72.53 L224.78,72.33 L225.22,72.13 L225.65,71.94 L226.09,71.74 L226.52,71.55 L226.96,71.36 L227.39,71.17 L227.82,70.98 L228.26,70.79 L228.69,70.60 L229.13,70.41 L229.56,70.23 L230.00,70.05 L230.43,69.86 L230.87,69.68 L231.30,69.50 L231.74,69.32 L232.17,69.15 L232.61,68.97 L233.04,68.79 L233.48,68.62 L233.91,68.45 L234.35,68.27 L234.78,68.10 L235.22,67.93 L235.65,67.76 L236.09,67.60 L236.52,67.43 L236.96,67.26 L237.39,67.10 L237.83,66.94 L238.26,66.77 L238.70,66.61 L239.13,66.45 L239.57,66.29 L240.00,66.13 L240.44,65.98 L240.87,65.82 L241.31,65.66 L241.74,65.51 L242.18,65.36 L242.61,65.20 L243.05,65.05 L243.48,64.90 L243.92,64.75 L244.35,64.60 L244.79,64.46 L245.22,64.31 L245.66,64.16 L246.09,64.02 L246.52,63.87 L246.96,63.73 L247.39,63.59 L247.83,63.45 L248.26,63.31 L248.70,63.17 L249.13,63.03 L249.57,62.89 L250.00,62.75 L250.44,62.62 L250.87,62.48 L251.31,62.34 L251.74,62.21 L252.18,62.08 L252.61,61.95 L253.05,61.81 L253.48,61.68 L253.92,61.55 L254.35,61.43 L254.79,61.30 L255.22,61.17 L255.66,61.04 L256.09,60.92 L256.53,60.79 L256.96,60.67 L257.40,60.54 L257.83,60.42 L258.27,60.30 L258.70,60.18 L259.14,60.06 L259.57,59.94 L260.01,59.82 L260.44,59.70 L260.88,59.58 L261.31,59.46 L261.75,59.35 L262.18,59.23 L262.62,59.12 L263.05,59.00 L263.49,58.89 L263.92,58.78 L264.36,58.66 L264.79,58.55 L265.23,58.44 L265.66,58.33 L266.09,58.22 L266.53,58.11 L266.96,58.00 L267.40,57.90 L267.83,57.79 L268.27,57.68 L268.70,57.58 L269.14,57.47 L269.57,57.37 L270.01,57.26 L270.44,57.16 L270.88,57.06 L271.31,56.96 L271.75,56.85 L272.18,56.75 L272.62,56.65 L273.05,56.55 L273.49,56.45 L273.92,56.36 L274.36,56.26 L274.79,56.16 L275.23,56.06 L275.66,55.97 L276.10,55.87 L276.53,55.78 L276.97,55.68 L277.40,55.59 L277.84,55.49 L278.27,55.40 L278.71,55.31 L279.14,55.22 L279.58,55.13 L280.01,55.04 L280.45,54.95 L280.88,54.86 L281.32,54.77 L281.75,54.68 L282.19,54.59 L282.62,54.50 L283.06,54.41 L283.49,54.33 L283.93,54.24 L284.36,54.16 L284.79,54.07 L285.23,53.99 L285.66,53.90 L286.10,53.82 L286.53,53.73 L286.97,53.65 L287.40,53.57 L287.84,53.49 L288.27,53.41 L288.71,53.32 L289.14,53.24 L289.58,53.16 L290.01,53.08 L290.45,53.01 L290.88,52.93 L291.32,52.85 L291.75,52.77 L292.19,52.69 L292.62,52.62 L293.06,52.54 L293.49,52.46 L293.93,52.39 L294.36,52.31 L294.80,52.24 L295.23,52.16 L295.67,52.09 L296.10,52.02 L296.54,51.94 L296.97,51.87 L297.41,51.80 L297.84,51.73 L298.28,51.66 L298.71,51.58 L299.15,51.51 L299.58,51.44 L300.02,51.37 L300.45,51.30 L300.89,51.23 L301.32,51.17 L301.76,51.10 L302.19,51.03 L302.63,50.96 L303.06,50.89 L303.49,50.83 L303.93,50.76 L304.36,50.69 L304.80,50.63 L305.23,50.56 L305.67,50.50 L306.10,50.43 L306.54,50.37 L306.97,50.31 L307.41,50.24 L307.84,50.18 L308.28,50.12 L308.71,50.05 L309.15,49.99 L309.58,49.93 L310.02,49.87 L310.45,49.81 L310.89,49.75 L311.32,49.69 L311.76,49.63 L312.19,49.57 L312.63,49.51 L313.06,49.45 L313.50,49.39 L313.93,49.33 L314.37,49.27 L314.80,49.21 L315.24,49.16 L315.67,49.10 L316.11,49.04 L316.54,48.98 L316.98,48.93 L317.41,48.87 L317.85,48.82 L318.28,48.76 L318.72,48.71 L319.15,48.65 L319.59,48.60 L320.02,48.54 L320.46,48.49 L320.89,48.43 L321.33,48.38 L321.76,48.33 L322.19,48.27 L322.63,48.22 L323.06,48.17 L323.50,48.12 L323.93,48.07 L324.37,48.01 L324.80,47.96 L325.24,47.91 L325.67,47.86 L326.11,47.81 L326.54,47.76 L326.98,47.71 L327.41,47.66 L327.85,47.61 L328.28,47.56 L328.72,47.51 L329.15,47.47 L329.59,47.42 L330.02,47.37 L330.46,47.32 L330.89,47.27 L331.33,47.23 L331.76,47.18 L332.20,47.13 L332.63,47.09 L333.07,47.04 L333.50,46.99 L333.94,46.95 L334.37,46.90 L334.81,46.86 L335.24,46.81 L335.68,46.77 L336.11,46.72 L336.55,46.68 L336.98,46.63 L337.42,46.59 L337.85,46.55 L338.29,46.50 L338.72,46.46 L339.16,46.42 L339.59,46.37 L340.03,46.33 L340.46,46.29 L340.90,46.25 L341.33,46.21 L341.76,46.16 L342.20,46.12 L342.63,46.08 L343.07,46.04 L343.50,46.00 L343.94,45.96 L344.37,45.92 L344.81,45.88 L345.24,45.84 L345.68,45.80 L346.11,45.76 L346.55,45.72 L346.98,45.68 L347.42,45.64 L347.85,45.60 L348.29,45.56 L348.72,45.53 L349.16,45.49 L349.59,45.45 L350.03,45.41 L350.46,45.37 L350.90,45.34 L351.33,45.30 L351.77,45.26 L352.20,45.23 L352.64,45.19 L353.07,45.15 L353.51,45.12 L353.94,45.08 L354.38,45.04 L354.81,45.01 L355.25,44.97 L355.68,44.94 L356.12,44.90 L356.55,44.87 L356.99,44.83 L357.42,44.80 L357.86,44.76 L358.29,44.73 L358.73,44.70 L359.16,44.66 L359.60,44.63 L360.03,44.59 L360.46,44.56 L360.90,44.53 L361.33,44.49 L361.77,44.46 L362.20,44.43 L362.64,44.40 L363.07,44.36 L363.51,44.33 L363.94,44.30 L364.38,44.27 L364.81,44.24 L365.25,44.20 L365.68,44.17 L366.12,44.14 L366.55,44.11 L366.99,44.08 L367.42,44.05 L367.86,44.02 L368.29,43.99 L368.73,43.96 L369.16,43.93 L369.60,43.90 L370.03,43.87 L370.47,43.84 L370.90,43.81 L371.34,43.78 L371.77,43.75 L372.21,43.72 L372.64,43.69 L373.08,43.66 L373.51,43.63 L373.95,43.60 L374.38,43.57 L374.82,43.54 L375.25,43.52 L375.69,43.49 L376.12,43.46 L376.56,43.43 L376.99,43.40 L377.43,43.38 L377.86,43.35 L378.30,43.32 L378.73,43.29 L379.16,43.27 L379.60,43.24 L380.03,43.21 L380.47,43.19 L380.90,43.16 L381.34,43.13 L381.77,43.11 L382.21,43.08 L382.64,43.06 L383.08,43.03 L383.51,43.00 L383.95,42.98 L384.38,42.95 L384.82,42.93 L385.25,42.90 L385.69,42.88 L386.12,42.85 L386.56,42.83 L386.99,42.80 L387.43,42.78 L387.86,42.75 L388.30,42.73 L388.73,42.70 L389.17,42.68 L389.60,42.65 L390.04,42.63 L390.47,42.61 L390.91,42.58 L391.34,42.56 L391.78,42.54 L392.21,42.51 L392.65,42.49 L393.08,42.47 L393.52,42.44 L393.95,42.42 L394.39,42.40 L394.82,42.37 L395.26,42.35 L395.69,42.33 L396.13,42.31 L396.56,42.28 L397.00,42.26 L397.43,42.24 L397.87,42.22 L398.30,42.19 L398.73,42.17 L399.17,42.15 L399.60,42.13 L400.04,42.11 L400.47,42.09 L400.91,42.06 L401.34,42.04 L401.78,42.02 L402.21,42.00 L402.65,41.98 L403.08,41.96 L403.52,41.94 L403.95,41.92 L404.39,41.90 L404.82,41.88 L405.26,41.85 L405.69,41.83 L406.13,41.81 L406.56,41.79 L407.00,41.77 L407.43,41.75 L407.87,41.73 L408.30,41.71 L408.74,41.69 L409.17,41.67 L409.61,41.65 L410.04,41.63 L410.48,41.62 L410.91,41.60 L411.35,41.58 L411.78,41.56 L412.22,41.54 L412.65,41.52 L413.09,41.50 L413.52,41.48 L413.96,41.46 L414.39,41.44 L414.83,41.43 L415.26,41.41 L415.70,41.39 L416.13,41.37 L416.57,41.35 L417.00,41.33" fill="none" stroke="#0000ff" stroke-width="1.8" stroke-linejoin="round" clip-path="url(#cB)"/>
<line x1="77.33" y1="232.6" x2="77.33" y2="230.2" class="t"/>
<line x1="85.99" y1="232.6" x2="85.99" y2="230.2" class="t"/>
<line x1="85.99" y1="18.95" x2="85.99" y2="20.87" class="t2"/>
<line x1="94.66" y1="232.6" x2="94.66" y2="230.2" class="t"/>
<line x1="103.32" y1="232.6" x2="103.32" y2="230.2" class="t"/>
<line x1="103.32" y1="18.95" x2="103.32" y2="20.87" class="t2"/>
<line x1="111.99" y1="232.6" x2="111.99" y2="229.0" class="t"/>
<line x1="120.66" y1="232.6" x2="120.66" y2="230.2" class="t"/>
<line x1="120.66" y1="18.95" x2="120.66" y2="20.87" class="t2"/>
<line x1="129.32" y1="232.6" x2="129.32" y2="230.2" class="t"/>
<line x1="137.99" y1="232.6" x2="137.99" y2="230.2" class="t"/>
<line x1="137.99" y1="18.95" x2="137.99" y2="20.87" class="t2"/>
<line x1="146.65" y1="232.6" x2="146.65" y2="230.2" class="t"/>
<line x1="155.32" y1="232.6" x2="155.32" y2="229.0" class="t"/>
<line x1="155.32" y1="18.95" x2="155.32" y2="21.83" class="t2"/>
<line x1="163.99" y1="232.6" x2="163.99" y2="230.2" class="t"/>
<line x1="172.65" y1="232.6" x2="172.65" y2="230.2" class="t"/>
<line x1="172.65" y1="18.95" x2="172.65" y2="20.87" class="t2"/>
<line x1="181.32" y1="232.6" x2="181.32" y2="230.2" class="t"/>
<line x1="189.98" y1="232.6" x2="189.98" y2="230.2" class="t"/>
<line x1="189.98" y1="18.95" x2="189.98" y2="20.87" class="t2"/>
<line x1="198.65" y1="232.6" x2="198.65" y2="229.0" class="t"/>
<line x1="207.32" y1="232.6" x2="207.32" y2="230.2" class="t"/>
<line x1="207.32" y1="18.95" x2="207.32" y2="20.87" class="t2"/>
<line x1="215.98" y1="232.6" x2="215.98" y2="230.2" class="t"/>
<line x1="224.65" y1="232.6" x2="224.65" y2="230.2" class="t"/>
<line x1="224.65" y1="18.95" x2="224.65" y2="20.87" class="t2"/>
<line x1="233.31" y1="232.6" x2="233.31" y2="230.2" class="t"/>
<line x1="241.98" y1="232.6" x2="241.98" y2="229.0" class="t"/>
<line x1="241.98" y1="18.95" x2="241.98" y2="21.83" class="t2"/>
<line x1="250.65" y1="232.6" x2="250.65" y2="230.2" class="t"/>
<line x1="259.31" y1="232.6" x2="259.31" y2="230.2" class="t"/>
<line x1="259.31" y1="18.95" x2="259.31" y2="20.87" class="t2"/>
<line x1="267.98" y1="232.6" x2="267.98" y2="230.2" class="t"/>
<line x1="276.64" y1="232.6" x2="276.64" y2="230.2" class="t"/>
<line x1="276.64" y1="18.95" x2="276.64" y2="20.87" class="t2"/>
<line x1="285.31" y1="232.6" x2="285.31" y2="229.0" class="t"/>
<line x1="293.98" y1="232.6" x2="293.98" y2="230.2" class="t"/>
<line x1="293.98" y1="18.95" x2="293.98" y2="20.87" class="t2"/>
<line x1="302.64" y1="232.6" x2="302.64" y2="230.2" class="t"/>
<line x1="311.31" y1="232.6" x2="311.31" y2="230.2" class="t"/>
<line x1="311.31" y1="18.95" x2="311.31" y2="20.87" class="t2"/>
<line x1="319.97" y1="232.6" x2="319.97" y2="230.2" class="t"/>
<line x1="328.64" y1="232.6" x2="328.64" y2="229.0" class="t"/>
<line x1="328.64" y1="18.95" x2="328.64" y2="21.83" class="t2"/>
<line x1="337.31" y1="232.6" x2="337.31" y2="230.2" class="t"/>
<line x1="345.97" y1="232.6" x2="345.97" y2="230.2" class="t"/>
<line x1="345.97" y1="18.95" x2="345.97" y2="20.87" class="t2"/>
<line x1="354.64" y1="232.6" x2="354.64" y2="230.2" class="t"/>
<line x1="363.30" y1="232.6" x2="363.30" y2="230.2" class="t"/>
<line x1="363.30" y1="18.95" x2="363.30" y2="20.87" class="t2"/>
<line x1="371.97" y1="232.6" x2="371.97" y2="229.0" class="t"/>
<line x1="380.64" y1="232.6" x2="380.64" y2="230.2" class="t"/>
<line x1="380.64" y1="18.95" x2="380.64" y2="20.87" class="t2"/>
<line x1="389.30" y1="232.6" x2="389.30" y2="230.2" class="t"/>
<line x1="397.97" y1="232.6" x2="397.97" y2="230.2" class="t"/>
<line x1="397.97" y1="18.95" x2="397.97" y2="20.87" class="t2"/>
<line x1="406.63" y1="232.6" x2="406.63" y2="230.2" class="t"/>
<line x1="415.30" y1="232.6" x2="415.30" y2="229.0" class="t"/>
<line x1="415.30" y1="18.95" x2="415.30" y2="21.83" class="t2"/>
<line x1="69.6" y1="232.60" x2="73.19999999999999" y2="232.60" class="t"/>
<line x1="415.3" y1="232.60" x2="411.7" y2="232.60" class="t"/>
<line x1="69.6" y1="219.25" x2="72.0" y2="219.25" class="t"/>
<line x1="415.3" y1="219.25" x2="412.90000000000003" y2="219.25" class="t"/>
<line x1="69.6" y1="205.89" x2="72.0" y2="205.89" class="t"/>
<line x1="415.3" y1="205.89" x2="412.90000000000003" y2="205.89" class="t"/>
<line x1="69.6" y1="192.54" x2="72.0" y2="192.54" class="t"/>
<line x1="415.3" y1="192.54" x2="412.90000000000003" y2="192.54" class="t"/>
<line x1="69.6" y1="179.19" x2="73.19999999999999" y2="179.19" class="t"/>
<line x1="415.3" y1="179.19" x2="411.7" y2="179.19" class="t"/>
<line x1="69.6" y1="165.83" x2="72.0" y2="165.83" class="t"/>
<line x1="415.3" y1="165.83" x2="412.90000000000003" y2="165.83" class="t"/>
<line x1="69.6" y1="152.48" x2="72.0" y2="152.48" class="t"/>
<line x1="415.3" y1="152.48" x2="412.90000000000003" y2="152.48" class="t"/>
<line x1="69.6" y1="139.13" x2="72.0" y2="139.13" class="t"/>
<line x1="415.3" y1="139.13" x2="412.90000000000003" y2="139.13" class="t"/>
<line x1="69.6" y1="125.77" x2="73.19999999999999" y2="125.77" class="t"/>
<line x1="415.3" y1="125.77" x2="411.7" y2="125.77" class="t"/>
<line x1="69.6" y1="112.42" x2="72.0" y2="112.42" class="t"/>
<line x1="415.3" y1="112.42" x2="412.90000000000003" y2="112.42" class="t"/>
<line x1="69.6" y1="99.07" x2="72.0" y2="99.07" class="t"/>
<line x1="415.3" y1="99.07" x2="412.90000000000003" y2="99.07" class="t"/>
<line x1="69.6" y1="85.72" x2="72.0" y2="85.72" class="t"/>
<line x1="415.3" y1="85.72" x2="412.90000000000003" y2="85.72" class="t"/>
<line x1="69.6" y1="72.36" x2="73.19999999999999" y2="72.36" class="t"/>
<line x1="415.3" y1="72.36" x2="411.7" y2="72.36" class="t"/>
<line x1="69.6" y1="59.01" x2="72.0" y2="59.01" class="t"/>
<line x1="415.3" y1="59.01" x2="412.90000000000003" y2="59.01" class="t"/>
<line x1="69.6" y1="45.66" x2="72.0" y2="45.66" class="t"/>
<line x1="415.3" y1="45.66" x2="412.90000000000003" y2="45.66" class="t"/>
<line x1="69.6" y1="32.30" x2="72.0" y2="32.30" class="t"/>
<line x1="415.3" y1="32.30" x2="412.90000000000003" y2="32.30" class="t"/>
<line x1="69.6" y1="18.95" x2="73.19999999999999" y2="18.95" class="t"/>
<line x1="415.3" y1="18.95" x2="411.7" y2="18.95" class="t"/>
<text x="111.99" y="246.1" class="tk" text-anchor="middle">0.5</text>
<text x="155.32" y="246.1" class="tk" text-anchor="middle">1.0</text>
<text x="198.65" y="246.1" class="tk" text-anchor="middle">1.5</text>
<text x="241.98" y="246.1" class="tk" text-anchor="middle">2.0</text>
<text x="285.31" y="246.1" class="tk" text-anchor="middle">2.5</text>
<text x="328.64" y="246.1" class="tk" text-anchor="middle">3.0</text>
<text x="371.97" y="246.1" class="tk" text-anchor="middle">3.5</text>
<text x="415.30" y="246.1" class="tk" text-anchor="middle">4.0</text>
<text x="66.80" y="236.70" class="tk" text-anchor="end">0.0</text>
<text x="66.80" y="183.29" class="tk" text-anchor="end">0.2</text>
<text x="66.80" y="129.88" class="tk" text-anchor="end">0.4</text>
<text x="66.80" y="76.46" class="tk" text-anchor="end">0.6</text>
<text x="66.80" y="23.05" class="tk" text-anchor="end">0.8</text>
<text x="242.05" y="265.9" class="al" text-anchor="middle">T</text>
<text transform="translate(44.00,125.77) rotate(-90)" class="yl" text-anchor="middle">LQU</text>
<text x="243.05" y="19.3" class="ti" text-anchor="middle">(a)</text>
<line x1="319.00" y1="139.40" x2="336.20" y2="139.40" stroke="#000000" stroke-width="1.6"/>
<text x="343.60" y="144.15" class="lg">B=0.5</text>
<line x1="319.00" y1="158.30" x2="336.20" y2="158.30" stroke="#00ff00" stroke-width="1.6"/>
<text x="343.60" y="163.05" class="lg">B=1</text>
<line x1="319.00" y1="177.20" x2="336.20" y2="177.20" stroke="#ff0000" stroke-width="1.6"/>
<text x="343.60" y="181.95" class="lg">B=1.5</text>
<line x1="319.00" y1="196.10" x2="336.20" y2="196.10" stroke="#0000ff" stroke-width="1.6"/>
<text x="343.60" y="200.85" class="lg">B=2</text>
<line x1="554.43" y1="18.95" x2="554.43" y2="232.6" class="g"/>
<line x1="597.73" y1="18.95" x2="597.73" y2="232.6" class="g"/>
<line x1="641.02" y1="18.95" x2="641.02" y2="232.6" class="g"/>
<line x1="684.32" y1="18.95" x2="684.32" y2="232.6" class="g"/>
<line x1="727.62" y1="18.95" x2="727.62" y2="232.6" class="g"/>
<line x1="770.91" y1="18.95" x2="770.91" y2="232.6" class="g"/>
<line x1="814.20" y1="18.95" x2="814.20" y2="232.6" class="g"/>
<line x1="512.25" y1="179.19" x2="857.5" y2="179.19" class="g"/>
<line x1="512.25" y1="125.77" x2="857.5" y2="125.77" class="g"/>
<line x1="512.25" y1="72.36" x2="857.5" y2="72.36" class="g"/>
<rect x="512.25" y="18.95" width="345.25" height="213.65" fill="none" stroke="#767676" stroke-width="1.25"/>
<clipPath id="cb"><rect x="512.35" y="16.95" width="346.85" height="216.85"/></clipPath>
<path d="M512.02,230.18 L512.45,230.18 L512.88,230.18 L513.32,230.18 L513.75,230.10 L514.19,229.92 L514.62,229.69 L515.06,229.43 L515.49,229.10 L515.92,228.54 L516.36,227.72 L516.79,226.61 L517.23,225.23 L517.66,223.57 L518.10,221.67 L518.53,219.53 L518.96,217.18 L519.40,214.65 L519.83,211.95 L520.27,209.12 L520.70,206.18 L521.14,203.14 L521.57,200.03 L522.00,196.86 L522.44,193.65 L522.87,190.40 L523.31,187.14 L523.74,183.88 L524.18,180.62 L524.61,177.37 L525.04,174.15 L525.48,170.95 L525.91,167.79 L526.35,164.67 L526.78,161.59 L527.22,158.56 L527.65,155.59 L528.08,152.67 L528.52,149.80 L528.95,147.00 L529.39,144.26 L529.82,141.58 L530.26,138.96 L530.69,136.41 L531.12,133.92 L531.56,131.49 L531.99,129.12 L532.43,126.81 L532.86,124.56 L533.30,122.37 L533.73,120.23 L534.16,118.14 L534.60,116.11 L535.03,114.14 L535.47,112.21 L535.90,110.34 L536.34,108.51 L536.77,106.73 L537.20,105.00 L537.64,103.32 L538.07,101.68 L538.51,100.08 L538.94,98.53 L539.38,97.02 L539.81,95.55 L540.24,94.12 L540.68,92.73 L541.11,91.38 L541.55,90.07 L541.98,88.79 L542.42,87.55 L542.85,86.34 L543.28,85.17 L543.72,84.03 L544.15,82.93 L544.59,81.86 L545.02,80.81 L545.45,79.80 L545.89,78.81 L546.32,77.86 L546.76,76.93 L547.19,76.02 L547.63,75.15 L548.06,74.29 L548.49,73.46 L548.93,72.65 L549.36,71.87 L549.80,71.10 L550.23,70.36 L550.67,69.63 L551.10,68.93 L551.53,68.24 L551.97,67.57 L552.40,66.92 L552.84,66.29 L553.27,65.67 L553.71,65.07 L554.14,64.49 L554.57,63.92 L555.01,63.36 L555.44,62.82 L555.88,62.29 L556.31,61.78 L556.75,61.28 L557.18,60.79 L557.61,60.31 L558.05,59.84 L558.48,59.39 L558.92,58.95 L559.35,58.51 L559.79,58.09 L560.22,57.68 L560.65,57.28 L561.09,56.89 L561.52,56.50 L561.96,56.13 L562.39,55.76 L562.83,55.41 L563.26,55.06 L563.69,54.72 L564.13,54.39 L564.56,54.06 L565.00,53.74 L565.43,53.43 L565.87,53.13 L566.30,52.83 L566.73,52.54 L567.17,52.26 L567.60,51.98 L568.04,51.71 L568.47,51.44 L568.91,51.18 L569.34,50.93 L569.77,50.68 L570.21,50.43 L570.64,50.20 L571.08,49.96 L571.51,49.73 L571.95,49.51 L572.38,49.29 L572.81,49.07 L573.25,48.86 L573.68,48.65 L574.12,48.45 L574.55,48.25 L574.99,48.06 L575.42,47.86 L575.85,47.68 L576.29,47.49 L576.72,47.31 L577.16,47.13 L577.59,46.96 L578.03,46.79 L578.46,46.62 L578.89,46.46 L579.33,46.29 L579.76,46.14 L580.20,45.98 L580.63,45.83 L581.07,45.67 L581.50,45.53 L581.93,45.38 L582.37,45.24 L582.80,45.10 L583.24,44.96 L583.67,44.82 L584.11,44.68 L584.54,44.55 L584.97,44.42 L585.41,44.29 L585.84,44.17 L586.28,44.04 L586.71,43.92 L587.15,43.80 L587.58,43.68 L588.01,43.56 L588.45,43.45 L588.88,43.33 L589.32,43.22 L589.75,43.11 L590.19,43.00 L590.62,42.89 L591.05,42.78 L591.49,42.68 L591.92,42.57 L592.36,42.47 L592.79,42.37 L593.22,42.27 L593.66,42.17 L594.09,42.07 L594.53,41.97 L594.96,41.88 L595.40,41.78 L595.83,41.69 L596.26,41.59 L596.70,41.50 L597.13,41.41 L597.57,41.32 L598.00,41.23 L598.44,41.15 L598.87,41.06 L599.30,40.97 L599.74,40.89 L600.17,40.81 L600.61,40.72 L601.04,40.64 L601.48,40.56 L601.91,40.48 L602.34,40.40 L602.78,40.33 L603.21,40.25 L603.65,40.17 L604.08,40.10 L604.52,40.02 L604.95,39.95 L605.38,39.88 L605.82,39.80 L606.25,39.73 L606.69,39.66 L607.12,39.59 L607.56,39.53 L607.99,39.46 L608.42,39.39 L608.86,39.32 L609.29,39.26 L609.73,39.19 L610.16,39.13 L610.60,39.07 L611.03,39.00 L611.46,38.94 L611.90,38.88 L612.33,38.82 L612.77,38.76 L613.20,38.70 L613.64,38.64 L614.07,38.58 L614.50,38.53 L614.94,38.47 L615.37,38.41 L615.81,38.36 L616.24,38.31 L616.68,38.25 L617.11,38.20 L617.54,38.15 L617.98,38.09 L618.41,38.04 L618.85,37.99 L619.28,37.94 L619.72,37.89 L620.15,37.84 L620.58,37.79 L621.02,37.74 L621.45,37.70 L621.89,37.65 L622.32,37.60 L622.76,37.56 L623.19,37.51 L623.62,37.47 L624.06,37.42 L624.49,37.38 L624.93,37.34 L625.36,37.29 L625.80,37.25 L626.23,37.21 L626.66,37.17 L627.10,37.13 L627.53,37.09 L627.97,37.05 L628.40,37.01 L628.84,36.97 L629.27,36.93 L629.70,36.89 L630.14,36.85 L630.57,36.82 L631.01,36.78 L631.44,36.74 L631.88,36.71 L632.31,36.67 L632.74,36.64 L633.18,36.60 L633.61,36.57 L634.05,36.53 L634.48,36.50 L634.92,36.47 L635.35,36.43 L635.78,36.40 L636.22,36.37 L636.65,36.34 L637.09,36.31 L637.52,36.28 L637.96,36.25 L638.39,36.22 L638.82,36.19 L639.26,36.16 L639.69,36.13 L640.13,36.10 L640.56,36.07 L640.99,36.04 L641.43,36.02 L641.86,35.99 L642.30,35.96 L642.73,35.94 L643.17,35.91 L643.60,35.88 L644.03,35.86 L644.47,35.83 L644.90,35.81 L645.34,35.79 L645.77,35.76 L646.21,35.74 L646.64,35.71 L647.07,35.69 L647.51,35.67 L647.94,35.65 L648.38,35.62 L648.81,35.60 L649.25,35.58 L649.68,35.56 L650.11,35.54 L650.55,35.52 L650.98,35.49 L651.42,35.47 L651.85,35.45 L652.29,35.43 L652.72,35.41 L653.15,35.40 L653.59,35.38 L654.02,35.36 L654.46,35.34 L654.89,35.32 L655.33,35.30 L655.76,35.28 L656.19,35.27 L656.63,35.25 L657.06,35.23 L657.50,35.22 L657.93,35.20 L658.37,35.18 L658.80,35.17 L659.23,35.15 L659.67,35.13 L660.10,35.12 L660.54,35.10 L660.97,35.09 L661.41,35.07 L661.84,35.06 L662.27,35.04 L662.71,35.03 L663.14,35.01 L663.58,35.00 L664.01,34.99 L664.45,34.97 L664.88,34.96 L665.31,34.94 L665.75,34.93 L666.18,34.92 L666.62,34.90 L667.05,34.89 L667.49,34.88 L667.92,34.87 L668.35,34.85 L668.79,34.84 L669.22,34.83 L669.66,34.82 L670.09,34.81 L670.53,34.80 L670.96,34.78 L671.39,34.77 L671.83,34.76 L672.26,34.75 L672.70,34.74 L673.13,34.73 L673.57,34.72 L674.00,34.71 L674.43,34.70 L674.87,34.69 L675.30,34.68 L675.74,34.67 L676.17,34.66 L676.61,34.65 L677.04,34.64 L677.47,34.63 L677.91,34.62 L678.34,34.61 L678.78,34.60 L679.21,34.59 L679.65,34.58 L680.08,34.58 L680.51,34.57 L680.95,34.56 L681.38,34.55 L681.82,34.54 L682.25,34.53 L682.69,34.53 L683.12,34.52 L683.55,34.51 L683.99,34.50 L684.42,34.49 L684.86,34.49 L685.29,34.48 L685.73,34.47 L686.16,34.46 L686.59,34.46 L687.03,34.45 L687.46,34.44 L687.90,34.44 L688.33,34.43 L688.76,34.42 L689.20,34.42 L689.63,34.41 L690.07,34.40 L690.50,34.40 L690.94,34.39 L691.37,34.38 L691.80,34.38 L692.24,34.37 L692.67,34.37 L693.11,34.36 L693.54,34.35 L693.98,34.35 L694.41,34.34 L694.84,34.34 L695.28,34.33 L695.71,34.32 L696.15,34.32 L696.58,34.31 L697.02,34.31 L697.45,34.30 L697.88,34.30 L698.32,34.29 L698.75,34.29 L699.19,34.28 L699.62,34.28 L700.06,34.27 L700.49,34.27 L700.92,34.26 L701.36,34.26 L701.79,34.25 L702.23,34.25 L702.66,34.24 L703.10,34.24 L703.53,34.23 L703.96,34.23 L704.40,34.23 L704.83,34.22 L705.27,34.22 L705.70,34.21 L706.14,34.21 L706.57,34.20 L707.00,34.20 L707.44,34.20 L707.87,34.19 L708.31,34.19 L708.74,34.18 L709.18,34.18 L709.61,34.18 L710.04,34.17 L710.48,34.17 L710.91,34.17 L711.35,34.16 L711.78,34.16 L712.22,34.15 L712.65,34.15 L713.08,34.15 L713.52,34.14 L713.95,34.14 L714.39,34.14 L714.82,34.13 L715.26,34.13 L715.69,34.13 L716.12,34.12 L716.56,34.12 L716.99,34.12 L717.43,34.11 L717.86,34.11 L718.30,34.11 L718.73,34.10 L719.16,34.10 L719.60,34.10 L720.03,34.09 L720.47,34.09 L720.90,34.09 L721.34,34.08 L721.77,34.08 L722.20,34.08 L722.64,34.08 L723.07,34.07 L723.51,34.07 L723.94,34.07 L724.38,34.06 L724.81,34.06 L725.24,34.06 L725.68,34.06 L726.11,34.05 L726.55,34.05 L726.98,34.05 L727.42,34.04 L727.85,34.04 L728.28,34.04 L728.72,34.04 L729.15,34.03 L729.59,34.03 L730.02,34.03 L730.46,34.03 L730.89,34.02 L731.32,34.02 L731.76,34.02 L732.19,34.02 L732.63,34.01 L733.06,34.01 L733.50,34.01 L733.93,34.01 L734.36,34.00 L734.80,34.00 L735.23,34.00 L735.67,34.00 L736.10,33.99 L736.54,33.99 L736.97,33.99 L737.40,33.99 L737.84,33.98 L738.27,33.98 L738.71,33.98 L739.14,33.98 L739.57,33.97 L740.01,33.97 L740.44,33.97 L740.88,33.97 L741.31,33.96 L741.75,33.96 L742.18,33.96 L742.61,33.96 L743.05,33.96 L743.48,33.95 L743.92,33.95 L744.35,33.95 L744.79,33.95 L745.22,33.94 L745.65,33.94 L746.09,33.94 L746.52,33.94 L746.96,33.93 L747.39,33.93 L747.83,33.93 L748.26,33.93 L748.69,33.93 L749.13,33.92 L749.56,33.92 L750.00,33.92 L750.43,33.92 L750.87,33.91 L751.30,33.91 L751.73,33.91 L752.17,33.91 L752.60,33.91 L753.04,33.90 L753.47,33.90 L753.91,33.90 L754.34,33.90 L754.77,33.89 L755.21,33.89 L755.64,33.89 L756.08,33.89 L756.51,33.88 L756.95,33.88 L757.38,33.88 L757.81,33.88 L758.25,33.88 L758.68,33.87 L759.12,33.87 L759.55,33.87 L759.99,33.87 L760.42,33.86 L760.85,33.86 L761.29,33.86 L761.72,33.86 L762.16,33.85 L762.59,33.85 L763.03,33.85 L763.46,33.85 L763.89,33.84 L764.33,33.84 L764.76,33.84 L765.20,33.84 L765.63,33.84 L766.07,33.83 L766.50,33.83 L766.93,33.83 L767.37,33.83 L767.80,33.82 L768.24,33.82 L768.67,33.82 L769.11,33.82 L769.54,33.81 L769.97,33.81 L770.41,33.81 L770.84,33.81 L771.28,33.80 L771.71,33.80 L772.15,33.80 L772.58,33.80 L773.01,33.79 L773.45,33.79 L773.88,33.79 L774.32,33.79 L774.75,33.78 L775.19,33.78 L775.62,33.78 L776.05,33.78 L776.49,33.77 L776.92,33.77 L777.36,33.77 L777.79,33.76 L778.23,33.76 L778.66,33.76 L779.09,33.76 L779.53,33.75 L779.96,33.75 L780.40,33.75 L780.83,33.75 L781.27,33.74 L781.70,33.74 L782.13,33.74 L782.57,33.74 L783.00,33.73 L783.44,33.73 L783.87,33.73 L784.31,33.72 L784.74,33.72 L785.17,33.72 L785.61,33.72 L786.04,33.71 L786.48,33.71 L786.91,33.71 L787.34,33.70 L787.78,33.70 L788.21,33.70 L788.65,33.70 L789.08,33.69 L789.52,33.69 L789.95,33.69 L790.38,33.68 L790.82,33.68 L791.25,33.68 L791.69,33.67 L792.12,33.67 L792.56,33.67 L792.99,33.66 L793.42,33.66 L793.86,33.66 L794.29,33.66 L794.73,33.65 L795.16,33.65 L795.60,33.65 L796.03,33.64 L796.46,33.64 L796.90,33.64 L797.33,33.63 L797.77,33.63 L798.20,33.63 L798.64,33.62 L799.07,33.62 L799.50,33.62 L799.94,33.61 L800.37,33.61 L800.81,33.61 L801.24,33.60 L801.68,33.60 L802.11,33.60 L802.54,33.59 L802.98,33.59 L803.41,33.59 L803.85,33.58 L804.28,33.58 L804.72,33.58 L805.15,33.57 L805.58,33.57 L806.02,33.57 L806.45,33.56 L806.89,33.56 L807.32,33.55 L807.76,33.55 L808.19,33.55 L808.62,33.54 L809.06,33.54 L809.49,33.54 L809.93,33.53 L810.36,33.53 L810.80,33.53 L811.23,33.52 L811.66,33.52 L812.10,33.51 L812.53,33.51 L812.97,33.51 L813.40,33.50 L813.84,33.50 L814.27,33.50 L814.70,33.49 L815.14,33.49 L815.57,33.48 L816.01,33.48 L816.44,33.48 L816.88,33.47 L817.31,33.47 L817.74,33.46 L818.18,33.46 L818.61,33.46 L819.05,33.45 L819.48,33.45 L819.92,33.44 L820.35,33.44 L820.78,33.44 L821.22,33.43 L821.65,33.43 L822.09,33.42 L822.52,33.42 L822.96,33.41 L823.39,33.41 L823.82,33.41 L824.26,33.40 L824.69,33.40 L825.13,33.39 L825.56,33.39 L826.00,33.38 L826.43,33.38 L826.86,33.38 L827.30,33.37 L827.73,33.37 L828.17,33.36 L828.60,33.36 L829.04,33.35 L829.47,33.35 L829.90,33.35 L830.34,33.34 L830.77,33.34 L831.21,33.33 L831.64,33.33 L832.08,33.32 L832.51,33.32 L832.94,33.31 L833.38,33.31 L833.81,33.30 L834.25,33.30 L834.68,33.29 L835.11,33.29 L835.55,33.29 L835.98,33.28 L836.42,33.28 L836.85,33.27 L837.29,33.27 L837.72,33.26 L838.15,33.26 L838.59,33.25 L839.02,33.25 L839.46,33.24 L839.89,33.24 L840.33,33.23 L840.76,33.23 L841.19,33.22 L841.63,33.22 L842.06,33.21 L842.50,33.21 L842.93,33.20 L843.37,33.20 L843.80,33.19 L844.23,33.19 L844.67,33.18 L845.10,33.18 L845.54,33.17 L845.97,33.17 L846.41,33.16 L846.84,33.16 L847.27,33.15 L847.71,33.15 L848.14,33.14 L848.58,33.13 L849.01,33.13 L849.45,33.12 L849.88,33.12 L850.31,33.11 L850.75,33.11 L851.18,33.10 L851.62,33.10 L852.05,33.09 L852.49,33.09 L852.92,33.08 L853.35,33.08 L853.79,33.07 L854.22,33.06 L854.66,33.06 L855.09,33.05 L855.53,33.05 L855.96,33.04 L856.39,33.04 L856.83,33.03 L857.26,33.02 L857.70,33.02 L858.13,33.01 L858.57,33.01 L859.00,33.00" fill="none" stroke="#000000" stroke-width="1.8" stroke-linejoin="round" clip-path="url(#cb)"/>
<path d="M512.02,232.45 L512.45,232.45 L512.88,232.45 L513.32,232.45 L513.75,232.45 L514.19,232.45 L514.62,232.45 L515.06,232.45 L515.49,232.45 L515.92,232.45 L516.36,232.45 L516.79,232.45 L517.23,232.45 L517.66,232.45 L518.10,232.45 L518.53,232.44 L518.96,232.40 L519.40,232.32 L519.83,232.22 L520.27,232.08 L520.70,231.93 L521.14,231.75 L521.57,231.56 L522.00,231.36 L522.44,231.15 L522.87,230.91 L523.31,230.62 L523.74,230.27 L524.18,229.86 L524.61,229.38 L525.04,228.84 L525.48,228.23 L525.91,227.55 L526.35,226.80 L526.78,225.99 L527.22,225.11 L527.65,224.17 L528.08,223.17 L528.52,222.11 L528.95,220.99 L529.39,219.81 L529.82,218.58 L530.26,217.31 L530.69,215.98 L531.12,214.61 L531.56,213.20 L531.99,211.75 L532.43,210.26 L532.86,208.74 L533.30,207.19 L533.73,205.62 L534.16,204.01 L534.60,202.38 L535.03,200.74 L535.47,199.07 L535.90,197.39 L536.34,195.69 L536.77,193.98 L537.20,192.27 L537.64,190.54 L538.07,188.81 L538.51,187.07 L538.94,185.33 L539.38,183.59 L539.81,181.85 L540.24,180.11 L540.68,178.38 L541.11,176.65 L541.55,174.92 L541.98,173.20 L542.42,171.49 L542.85,169.79 L543.28,168.10 L543.72,166.43 L544.15,164.76 L544.59,163.11 L545.02,161.47 L545.45,159.84 L545.89,158.23 L546.32,156.64 L546.76,155.06 L547.19,153.50 L547.63,151.96 L548.06,150.43 L548.49,148.92 L548.93,147.43 L549.36,145.96 L549.80,144.50 L550.23,143.06 L550.67,141.64 L551.10,140.24 L551.53,138.85 L551.97,137.48 L552.40,136.13 L552.84,134.80 L553.27,133.48 L553.71,132.18 L554.14,130.90 L554.57,129.63 L555.01,128.38 L555.44,127.15 L555.88,125.93 L556.31,124.74 L556.75,123.55 L557.18,122.39 L557.61,121.23 L558.05,120.10 L558.48,118.98 L558.92,117.88 L559.35,116.79 L559.79,115.72 L560.22,114.66 L560.65,113.62 L561.09,112.60 L561.52,111.59 L561.96,110.59 L562.39,109.61 L562.83,108.64 L563.26,107.69 L563.69,106.75 L564.13,105.83 L564.56,104.92 L565.00,104.02 L565.43,103.14 L565.87,102.27 L566.30,101.41 L566.73,100.57 L567.17,99.74 L567.60,98.92 L568.04,98.12 L568.47,97.33 L568.91,96.54 L569.34,95.78 L569.77,95.02 L570.21,94.27 L570.64,93.54 L571.08,92.82 L571.51,92.11 L571.95,91.40 L572.38,90.71 L572.81,90.03 L573.25,89.36 L573.68,88.70 L574.12,88.05 L574.55,87.41 L574.99,86.78 L575.42,86.16 L575.85,85.55 L576.29,84.95 L576.72,84.35 L577.16,83.77 L577.59,83.19 L578.03,82.62 L578.46,82.06 L578.89,81.51 L579.33,80.97 L579.76,80.43 L580.20,79.91 L580.63,79.39 L581.07,78.87 L581.50,78.37 L581.93,77.87 L582.37,77.38 L582.80,76.90 L583.24,76.43 L583.67,75.96 L584.11,75.50 L584.54,75.04 L584.97,74.59 L585.41,74.15 L585.84,73.72 L586.28,73.29 L586.71,72.86 L587.15,72.45 L587.58,72.04 L588.01,71.63 L588.45,71.23 L588.88,70.84 L589.32,70.45 L589.75,70.07 L590.19,69.69 L590.62,69.32 L591.05,68.96 L591.49,68.59 L591.92,68.24 L592.36,67.89 L592.79,67.54 L593.22,67.20 L593.66,66.87 L594.09,66.53 L594.53,66.21 L594.96,65.89 L595.40,65.57 L595.83,65.26 L596.26,64.95 L596.70,64.64 L597.13,64.34 L597.57,64.04 L598.00,63.75 L598.44,63.46 L598.87,63.18 L599.30,62.90 L599.74,62.62 L600.17,62.35 L600.61,62.08 L601.04,61.81 L601.48,61.55 L601.91,61.29 L602.34,61.03 L602.78,60.78 L603.21,60.53 L603.65,60.29 L604.08,60.04 L604.52,59.81 L604.95,59.57 L605.38,59.34 L605.82,59.10 L606.25,58.88 L606.69,58.65 L607.12,58.43 L607.56,58.21 L607.99,58.00 L608.42,57.78 L608.86,57.57 L609.29,57.36 L609.73,57.16 L610.16,56.95 L610.60,56.75 L611.03,56.55 L611.46,56.36 L611.90,56.16 L612.33,55.97 L612.77,55.78 L613.20,55.60 L613.64,55.41 L614.07,55.23 L614.50,55.05 L614.94,54.87 L615.37,54.69 L615.81,54.52 L616.24,54.35 L616.68,54.18 L617.11,54.01 L617.54,53.84 L617.98,53.68 L618.41,53.52 L618.85,53.36 L619.28,53.20 L619.72,53.04 L620.15,52.88 L620.58,52.73 L621.02,52.58 L621.45,52.43 L621.89,52.28 L622.32,52.13 L622.76,51.98 L623.19,51.84 L623.62,51.70 L624.06,51.56 L624.49,51.42 L624.93,51.28 L625.36,51.14 L625.80,51.01 L626.23,50.87 L626.66,50.74 L627.10,50.61 L627.53,50.48 L627.97,50.35 L628.40,50.22 L628.84,50.10 L629.27,49.97 L629.70,49.85 L630.14,49.73 L630.57,49.61 L631.01,49.49 L631.44,49.37 L631.88,49.25 L632.31,49.14 L632.74,49.02 L633.18,48.91 L633.61,48.80 L634.05,48.68 L634.48,48.57 L634.92,48.46 L635.35,48.36 L635.78,48.25 L636.22,48.14 L636.65,48.04 L637.09,47.94 L637.52,47.83 L637.96,47.73 L638.39,47.63 L638.82,47.53 L639.26,47.43 L639.69,47.34 L640.13,47.24 L640.56,47.14 L640.99,47.05 L641.43,46.95 L641.86,46.86 L642.30,46.77 L642.73,46.68 L643.17,46.59 L643.60,46.50 L644.03,46.41 L644.47,46.32 L644.90,46.24 L645.34,46.15 L645.77,46.06 L646.21,45.98 L646.64,45.90 L647.07,45.81 L647.51,45.73 L647.94,45.65 L648.38,45.57 L648.81,45.49 L649.25,45.41 L649.68,45.33 L650.11,45.25 L650.55,45.18 L650.98,45.10 L651.42,45.03 L651.85,44.95 L652.29,44.88 L652.72,44.80 L653.15,44.73 L653.59,44.66 L654.02,44.59 L654.46,44.52 L654.89,44.45 L655.33,44.38 L655.76,44.31 L656.19,44.24 L656.63,44.17 L657.06,44.11 L657.50,44.04 L657.93,43.97 L658.37,43.91 L658.80,43.84 L659.23,43.78 L659.67,43.72 L660.10,43.65 L660.54,43.59 L660.97,43.53 L661.41,43.47 L661.84,43.41 L662.27,43.35 L662.71,43.29 L663.14,43.23 L663.58,43.17 L664.01,43.11 L664.45,43.05 L664.88,43.00 L665.31,42.94 L665.75,42.88 L666.18,42.83 L666.62,42.77 L667.05,42.72 L667.49,42.66 L667.92,42.61 L668.35,42.56 L668.79,42.50 L669.22,42.45 L669.66,42.40 L670.09,42.35 L670.53,42.30 L670.96,42.24 L671.39,42.19 L671.83,42.14 L672.26,42.09 L672.70,42.05 L673.13,42.00 L673.57,41.95 L674.00,41.90 L674.43,41.85 L674.87,41.81 L675.30,41.76 L675.74,41.71 L676.17,41.67 L676.61,41.62 L677.04,41.57 L677.47,41.53 L677.91,41.48 L678.34,41.44 L678.78,41.40 L679.21,41.35 L679.65,41.31 L680.08,41.27 L680.51,41.22 L680.95,41.18 L681.38,41.14 L681.82,41.10 L682.25,41.05 L682.69,41.01 L683.12,40.97 L683.55,40.93 L683.99,40.89 L684.42,40.85 L684.86,40.81 L685.29,40.77 L685.73,40.73 L686.16,40.70 L686.59,40.66 L687.03,40.62 L687.46,40.58 L687.90,40.54 L688.33,40.51 L688.76,40.47 L689.20,40.43 L689.63,40.39 L690.07,40.36 L690.50,40.32 L690.94,40.29 L691.37,40.25 L691.80,40.21 L692.24,40.18 L692.67,40.14 L693.11,40.11 L693.54,40.08 L693.98,40.04 L694.41,40.01 L694.84,39.97 L695.28,39.94 L695.71,39.91 L696.15,39.87 L696.58,39.84 L697.02,39.81 L697.45,39.78 L697.88,39.74 L698.32,39.71 L698.75,39.68 L699.19,39.65 L699.62,39.62 L700.06,39.58 L700.49,39.55 L700.92,39.52 L701.36,39.49 L701.79,39.46 L702.23,39.43 L702.66,39.40 L703.10,39.37 L703.53,39.34 L703.96,39.31 L704.40,39.28 L704.83,39.25 L705.27,39.22 L705.70,39.19 L706.14,39.17 L706.57,39.14 L707.00,39.11 L707.44,39.08 L707.87,39.05 L708.31,39.02 L708.74,39.00 L709.18,38.97 L709.61,38.94 L710.04,38.91 L710.48,38.89 L710.91,38.86 L711.35,38.83 L711.78,38.81 L712.22,38.78 L712.65,38.75 L713.08,38.73 L713.52,38.70 L713.95,38.68 L714.39,38.65 L714.82,38.63 L715.26,38.60 L715.69,38.58 L716.12,38.55 L716.56,38.53 L716.99,38.50 L717.43,38.48 L717.86,38.45 L718.30,38.43 L718.73,38.40 L719.16,38.38 L719.60,38.35 L720.03,38.33 L720.47,38.31 L720.90,38.28 L721.34,38.26 L721.77,38.24 L722.20,38.21 L722.64,38.19 L723.07,38.17 L723.51,38.15 L723.94,38.12 L724.38,38.10 L724.81,38.08 L725.24,38.06 L725.68,38.03 L726.11,38.01 L726.55,37.99 L726.98,37.97 L727.42,37.95 L727.85,37.93 L728.28,37.90 L728.72,37.88 L729.15,37.86 L729.59,37.84 L730.02,37.82 L730.46,37.80 L730.89,37.78 L731.32,37.76 L731.76,37.74 L732.19,37.72 L732.63,37.70 L733.06,37.68 L733.50,37.66 L733.93,37.64 L734.36,37.62 L734.80,37.60 L735.23,37.58 L735.67,37.56 L736.10,37.54 L736.54,37.52 L736.97,37.50 L737.40,37.49 L737.84,37.47 L738.27,37.45 L738.71,37.43 L739.14,37.41 L739.57,37.39 L740.01,37.37 L740.44,37.36 L740.88,37.34 L741.31,37.32 L741.75,37.30 L742.18,37.28 L742.61,37.27 L743.05,37.25 L743.48,37.23 L743.92,37.21 L744.35,37.20 L744.79,37.18 L745.22,37.16 L745.65,37.15 L746.09,37.13 L746.52,37.11 L746.96,37.10 L747.39,37.08 L747.83,37.06 L748.26,37.05 L748.69,37.03 L749.13,37.01 L749.56,37.00 L750.00,36.98 L750.43,36.97 L750.87,36.95 L751.30,36.93 L751.73,36.92 L752.17,36.90 L752.60,36.89 L753.04,36.87 L753.47,36.86 L753.91,36.84 L754.34,36.83 L754.77,36.81 L755.21,36.80 L755.64,36.78 L756.08,36.77 L756.51,36.75 L756.95,36.74 L757.38,36.72 L757.81,36.71 L758.25,36.69 L758.68,36.68 L759.12,36.67 L759.55,36.65 L759.99,36.64 L760.42,36.62 L760.85,36.61 L761.29,36.59 L761.72,36.58 L762.16,36.57 L762.59,36.55 L763.03,36.54 L763.46,36.53 L763.89,36.51 L764.33,36.50 L764.76,36.49 L765.20,36.47 L765.63,36.46 L766.07,36.45 L766.50,36.43 L766.93,36.42 L767.37,36.41 L767.80,36.40 L768.24,36.38 L768.67,36.37 L769.11,36.36 L769.54,36.35 L769.97,36.33 L770.41,36.32 L770.84,36.31 L771.28,36.30 L771.71,36.28 L772.15,36.27 L772.58,36.26 L773.01,36.25 L773.45,36.24 L773.88,36.22 L774.32,36.21 L774.75,36.20 L775.19,36.19 L775.62,36.18 L776.05,36.17 L776.49,36.15 L776.92,36.14 L777.36,36.13 L777.79,36.12 L778.23,36.11 L778.66,36.10 L779.09,36.09 L779.53,36.08 L779.96,36.06 L780.40,36.05 L780.83,36.04 L781.27,36.03 L781.70,36.02 L782.13,36.01 L782.57,36.00 L783.00,35.99 L783.44,35.98 L783.87,35.97 L784.31,35.96 L784.74,35.95 L785.17,35.94 L785.61,35.93 L786.04,35.92 L786.48,35.91 L786.91,35.90 L787.34,35.89 L787.78,35.88 L788.21,35.87 L788.65,35.86 L789.08,35.85 L789.52,35.84 L789.95,35.83 L790.38,35.82 L790.82,35.81 L791.25,35.80 L791.69,35.79 L792.12,35.78 L792.56,35.77 L792.99,35.76 L793.42,35.75 L793.86,35.74 L794.29,35.73 L794.73,35.72 L795.16,35.72 L795.60,35.71 L796.03,35.70 L796.46,35.69 L796.90,35.68 L797.33,35.67 L797.77,35.66 L798.20,35.65 L798.64,35.64 L799.07,35.64 L799.50,35.63 L799.94,35.62 L800.37,35.61 L800.81,35.60 L801.24,35.59 L801.68,35.58 L802.11,35.58 L802.54,35.57 L802.98,35.56 L803.41,35.55 L803.85,35.54 L804.28,35.54 L804.72,35.53 L805.15,35.52 L805.58,35.51 L806.02,35.50 L806.45,35.50 L806.89,35.49 L807.32,35.48 L807.76,35.47 L808.19,35.46 L808.62,35.46 L809.06,35.45 L809.49,35.44 L809.93,35.43 L810.36,35.43 L810.80,35.42 L811.23,35.41 L811.66,35.40 L812.10,35.40 L812.53,35.39 L812.97,35.38 L813.40,35.37 L813.84,35.37 L814.27,35.36 L814.70,35.35 L815.14,35.35 L815.57,35.34 L816.01,35.33 L816.44,35.32 L816.88,35.32 L817.31,35.31 L817.74,35.30 L818.18,35.30 L818.61,35.29 L819.05,35.28 L819.48,35.28 L819.92,35.27 L820.35,35.26 L820.78,35.26 L821.22,35.25 L821.65,35.24 L822.09,35.24 L822.52,35.23 L822.96,35.22 L823.39,35.22 L823.82,35.21 L824.26,35.20 L824.69,35.20 L825.13,35.19 L825.56,35.19 L826.00,35.18 L826.43,35.17 L826.86,35.17 L827.30,35.16 L827.73,35.15 L828.17,35.15 L828.60,35.14 L829.04,35.14 L829.47,35.13 L829.90,35.12 L830.34,35.12 L830.77,35.11 L831.21,35.11 L831.64,35.10 L832.08,35.10 L832.51,35.09 L832.94,35.08 L833.38,35.08 L833.81,35.07 L834.25,35.07 L834.68,35.06 L835.11,35.06 L835.55,35.05 L835.98,35.04 L836.42,35.04 L836.85,35.03 L837.29,35.03 L837.72,35.02 L838.15,35.02 L838.59,35.01 L839.02,35.01 L839.46,35.00 L839.89,35.00 L840.33,34.99 L840.76,34.99 L841.19,34.98 L841.63,34.98 L842.06,34.97 L842.50,34.97 L842.93,34.96 L843.37,34.96 L843.80,34.95 L844.23,34.95 L844.67,34.94 L845.10,34.94 L845.54,34.93 L845.97,34.93 L846.41,34.92 L846.84,34.92 L847.27,34.91 L847.71,34.91 L848.14,34.90 L848.58,34.90 L849.01,34.89 L849.45,34.89 L849.88,34.88 L850.31,34.88 L850.75,34.87 L851.18,34.87 L851.62,34.86 L852.05,34.86 L852.49,34.86 L852.92,34.85 L853.35,34.85 L853.79,34.84 L854.22,34.84 L854.66,34.83 L855.09,34.83 L855.53,34.82 L855.96,34.82 L856.39,34.82 L856.83,34.81 L857.26,34.81 L857.70,34.80 L858.13,34.80 L858.57,34.79 L859.00,34.79" fill="none" stroke="#00ff00" stroke-width="1.8" stroke-linejoin="round" clip-path="url(#cb)"/>
<path d="M512.02,232.45 L512.45,232.45 L512.88,232.45 L513.32,232.45 L513.75,232.45 L514.19,232.45 L514.62,232.45 L515.06,232.45 L515.49,232.45 L515.92,232.45 L516.36,232.45 L516.79,232.45 L517.23,232.45 L517.66,232.45 L518.10,232.45 L518.53,232.45 L518.96,232.45 L519.40,232.45 L519.83,232.45 L520.27,232.45 L520.70,232.45 L521.14,232.45 L521.57,232.45 L522.00,232.45 L522.44,232.45 L522.87,232.45 L523.31,232.45 L523.74,232.45 L524.18,232.45 L524.61,232.45 L525.04,232.45 L525.48,232.45 L525.91,232.44 L526.35,232.39 L526.78,232.32 L527.22,232.21 L527.65,232.09 L528.08,231.94 L528.52,231.77 L528.95,231.58 L529.39,231.37 L529.82,231.15 L530.26,230.91 L530.69,230.65 L531.12,230.36 L531.56,230.05 L531.99,229.71 L532.43,229.33 L532.86,228.93 L533.30,228.51 L533.73,228.05 L534.16,227.57 L534.60,227.06 L535.03,226.52 L535.47,225.95 L535.90,225.36 L536.34,224.75 L536.77,224.10 L537.20,223.43 L537.64,222.74 L538.07,222.03 L538.51,221.29 L538.94,220.53 L539.38,219.75 L539.81,218.94 L540.24,218.12 L540.68,217.28 L541.11,216.41 L541.55,215.53 L541.98,214.64 L542.42,213.72 L542.85,212.79 L543.28,211.84 L543.72,210.88 L544.15,209.91 L544.59,208.92 L545.02,207.91 L545.45,206.90 L545.89,205.87 L546.32,204.83 L546.76,203.78 L547.19,202.72 L547.63,201.65 L548.06,200.57 L548.49,199.49 L548.93,198.39 L549.36,197.29 L549.80,196.18 L550.23,195.07 L550.67,193.94 L551.10,192.82 L551.53,191.68 L551.97,190.54 L552.40,189.40 L552.84,188.26 L553.27,187.11 L553.71,185.95 L554.14,184.80 L554.57,183.64 L555.01,182.48 L555.44,181.32 L555.88,180.16 L556.31,178.99 L556.75,177.83 L557.18,176.66 L557.61,175.49 L558.05,174.33 L558.48,173.16 L558.92,172.00 L559.35,170.83 L559.79,169.67 L560.22,168.51 L560.65,167.35 L561.09,166.19 L561.52,165.04 L561.96,163.89 L562.39,162.74 L562.83,161.60 L563.26,160.46 L563.69,159.32 L564.13,158.19 L564.56,157.07 L565.00,155.95 L565.43,154.83 L565.87,153.73 L566.30,152.63 L566.73,151.53 L567.17,150.44 L567.60,149.36 L568.04,148.29 L568.47,147.23 L568.91,146.17 L569.34,145.12 L569.77,144.08 L570.21,143.05 L570.64,142.02 L571.08,141.01 L571.51,140.00 L571.95,139.01 L572.38,138.02 L572.81,137.04 L573.25,136.08 L573.68,135.12 L574.12,134.17 L574.55,133.23 L574.99,132.31 L575.42,131.39 L575.85,130.49 L576.29,129.59 L576.72,128.71 L577.16,127.83 L577.59,126.97 L578.03,126.12 L578.46,125.28 L578.89,124.45 L579.33,123.63 L579.76,122.82 L580.20,122.02 L580.63,121.23 L581.07,120.45 L581.50,119.69 L581.93,118.93 L582.37,118.18 L582.80,117.43 L583.24,116.70 L583.67,115.98 L584.11,115.27 L584.54,114.56 L584.97,113.86 L585.41,113.18 L585.84,112.50 L586.28,111.82 L586.71,111.16 L587.15,110.50 L587.58,109.85 L588.01,109.21 L588.45,108.58 L588.88,107.95 L589.32,107.34 L589.75,106.72 L590.19,106.12 L590.62,105.52 L591.05,104.93 L591.49,104.35 L591.92,103.77 L592.36,103.20 L592.79,102.63 L593.22,102.07 L593.66,101.52 L594.09,100.97 L594.53,100.43 L594.96,99.90 L595.40,99.37 L595.83,98.85 L596.26,98.33 L596.70,97.81 L597.13,97.31 L597.57,96.80 L598.00,96.31 L598.44,95.81 L598.87,95.33 L599.30,94.84 L599.74,94.37 L600.17,93.89 L600.61,93.42 L601.04,92.96 L601.48,92.50 L601.91,92.05 L602.34,91.60 L602.78,91.15 L603.21,90.71 L603.65,90.27 L604.08,89.84 L604.52,89.41 L604.95,88.98 L605.38,88.56 L605.82,88.15 L606.25,87.73 L606.69,87.33 L607.12,86.92 L607.56,86.52 L607.99,86.12 L608.42,85.73 L608.86,85.34 L609.29,84.96 L609.73,84.57 L610.16,84.20 L610.60,83.82 L611.03,83.45 L611.46,83.08 L611.90,82.72 L612.33,82.36 L612.77,82.00 L613.20,81.65 L613.64,81.30 L614.07,80.95 L614.50,80.60 L614.94,80.26 L615.37,79.93 L615.81,79.59 L616.24,79.26 L616.68,78.93 L617.11,78.61 L617.54,78.28 L617.98,77.96 L618.41,77.65 L618.85,77.33 L619.28,77.02 L619.72,76.72 L620.15,76.41 L620.58,76.11 L621.02,75.81 L621.45,75.51 L621.89,75.22 L622.32,74.93 L622.76,74.64 L623.19,74.35 L623.62,74.07 L624.06,73.79 L624.49,73.51 L624.93,73.23 L625.36,72.96 L625.80,72.69 L626.23,72.42 L626.66,72.15 L627.10,71.89 L627.53,71.63 L627.97,71.37 L628.40,71.11 L628.84,70.86 L629.27,70.60 L629.70,70.35 L630.14,70.11 L630.57,69.86 L631.01,69.62 L631.44,69.37 L631.88,69.13 L632.31,68.90 L632.74,68.66 L633.18,68.43 L633.61,68.20 L634.05,67.97 L634.48,67.74 L634.92,67.52 L635.35,67.29 L635.78,67.07 L636.22,66.85 L636.65,66.63 L637.09,66.42 L637.52,66.20 L637.96,65.99 L638.39,65.78 L638.82,65.57 L639.26,65.36 L639.69,65.16 L640.13,64.96 L640.56,64.75 L640.99,64.55 L641.43,64.36 L641.86,64.16 L642.30,63.96 L642.73,63.77 L643.17,63.58 L643.60,63.39 L644.03,63.20 L644.47,63.01 L644.90,62.83 L645.34,62.64 L645.77,62.46 L646.21,62.28 L646.64,62.10 L647.07,61.92 L647.51,61.75 L647.94,61.57 L648.38,61.40 L648.81,61.22 L649.25,61.05 L649.68,60.88 L650.11,60.72 L650.55,60.55 L650.98,60.38 L651.42,60.22 L651.85,60.06 L652.29,59.90 L652.72,59.74 L653.15,59.58 L653.59,59.42 L654.02,59.26 L654.46,59.11 L654.89,58.95 L655.33,58.80 L655.76,58.65 L656.19,58.50 L656.63,58.35 L657.06,58.20 L657.50,58.06 L657.93,57.91 L658.37,57.77 L658.80,57.62 L659.23,57.48 L659.67,57.34 L660.10,57.20 L660.54,57.06 L660.97,56.92 L661.41,56.79 L661.84,56.65 L662.27,56.52 L662.71,56.38 L663.14,56.25 L663.58,56.12 L664.01,55.99 L664.45,55.86 L664.88,55.73 L665.31,55.60 L665.75,55.48 L666.18,55.35 L666.62,55.23 L667.05,55.10 L667.49,54.98 L667.92,54.86 L668.35,54.74 L668.79,54.62 L669.22,54.50 L669.66,54.38 L670.09,54.26 L670.53,54.15 L670.96,54.03 L671.39,53.92 L671.83,53.80 L672.26,53.69 L672.70,53.58 L673.13,53.47 L673.57,53.36 L674.00,53.25 L674.43,53.14 L674.87,53.03 L675.30,52.93 L675.74,52.82 L676.17,52.72 L676.61,52.61 L677.04,52.51 L677.47,52.40 L677.91,52.30 L678.34,52.20 L678.78,52.10 L679.21,52.00 L679.65,51.90 L680.08,51.80 L680.51,51.70 L680.95,51.61 L681.38,51.51 L681.82,51.42 L682.25,51.32 L682.69,51.23 L683.12,51.13 L683.55,51.04 L683.99,50.95 L684.42,50.86 L684.86,50.77 L685.29,50.68 L685.73,50.59 L686.16,50.50 L686.59,50.41 L687.03,50.32 L687.46,50.23 L687.90,50.15 L688.33,50.06 L688.76,49.98 L689.20,49.89 L689.63,49.81 L690.07,49.73 L690.50,49.64 L690.94,49.56 L691.37,49.48 L691.80,49.40 L692.24,49.32 L692.67,49.24 L693.11,49.16 L693.54,49.08 L693.98,49.00 L694.41,48.93 L694.84,48.85 L695.28,48.77 L695.71,48.70 L696.15,48.62 L696.58,48.55 L697.02,48.47 L697.45,48.40 L697.88,48.33 L698.32,48.25 L698.75,48.18 L699.19,48.11 L699.62,48.04 L700.06,47.97 L700.49,47.90 L700.92,47.83 L701.36,47.76 L701.79,47.69 L702.23,47.62 L702.66,47.55 L703.10,47.49 L703.53,47.42 L703.96,47.35 L704.40,47.29 L704.83,47.22 L705.27,47.16 L705.70,47.09 L706.14,47.03 L706.57,46.96 L707.00,46.90 L707.44,46.84 L707.87,46.77 L708.31,46.71 L708.74,46.65 L709.18,46.59 L709.61,46.53 L710.04,46.47 L710.48,46.41 L710.91,46.35 L711.35,46.29 L711.78,46.23 L712.22,46.17 L712.65,46.11 L713.08,46.06 L713.52,46.00 L713.95,45.94 L714.39,45.89 L714.82,45.83 L715.26,45.77 L715.69,45.72 L716.12,45.66 L716.56,45.61 L716.99,45.56 L717.43,45.50 L717.86,45.45 L718.30,45.39 L718.73,45.34 L719.16,45.29 L719.60,45.24 L720.03,45.18 L720.47,45.13 L720.90,45.08 L721.34,45.03 L721.77,44.98 L722.20,44.93 L722.64,44.88 L723.07,44.83 L723.51,44.78 L723.94,44.73 L724.38,44.68 L724.81,44.64 L725.24,44.59 L725.68,44.54 L726.11,44.49 L726.55,44.45 L726.98,44.40 L727.42,44.35 L727.85,44.31 L728.28,44.26 L728.72,44.22 L729.15,44.17 L729.59,44.13 L730.02,44.08 L730.46,44.04 L730.89,43.99 L731.32,43.95 L731.76,43.90 L732.19,43.86 L732.63,43.82 L733.06,43.77 L733.50,43.73 L733.93,43.69 L734.36,43.65 L734.80,43.61 L735.23,43.56 L735.67,43.52 L736.10,43.48 L736.54,43.44 L736.97,43.40 L737.40,43.36 L737.84,43.32 L738.27,43.28 L738.71,43.24 L739.14,43.20 L739.57,43.16 L740.01,43.12 L740.44,43.09 L740.88,43.05 L741.31,43.01 L741.75,42.97 L742.18,42.93 L742.61,42.90 L743.05,42.86 L743.48,42.82 L743.92,42.78 L744.35,42.75 L744.79,42.71 L745.22,42.68 L745.65,42.64 L746.09,42.60 L746.52,42.57 L746.96,42.53 L747.39,42.50 L747.83,42.46 L748.26,42.43 L748.69,42.39 L749.13,42.36 L749.56,42.32 L750.00,42.29 L750.43,42.26 L750.87,42.22 L751.30,42.19 L751.73,42.16 L752.17,42.12 L752.60,42.09 L753.04,42.06 L753.47,42.02 L753.91,41.99 L754.34,41.96 L754.77,41.93 L755.21,41.90 L755.64,41.86 L756.08,41.83 L756.51,41.80 L756.95,41.77 L757.38,41.74 L757.81,41.71 L758.25,41.68 L758.68,41.65 L759.12,41.62 L759.55,41.59 L759.99,41.56 L760.42,41.53 L760.85,41.50 L761.29,41.47 L761.72,41.44 L762.16,41.41 L762.59,41.38 L763.03,41.35 L763.46,41.32 L763.89,41.29 L764.33,41.27 L764.76,41.24 L765.20,41.21 L765.63,41.18 L766.07,41.15 L766.50,41.13 L766.93,41.10 L767.37,41.07 L767.80,41.04 L768.24,41.02 L768.67,40.99 L769.11,40.96 L769.54,40.94 L769.97,40.91 L770.41,40.88 L770.84,40.86 L771.28,40.83 L771.71,40.80 L772.15,40.78 L772.58,40.75 L773.01,40.73 L773.45,40.70 L773.88,40.67 L774.32,40.65 L774.75,40.62 L775.19,40.60 L775.62,40.57 L776.05,40.55 L776.49,40.52 L776.92,40.50 L777.36,40.47 L777.79,40.45 L778.23,40.42 L778.66,40.40 L779.09,40.38 L779.53,40.35 L779.96,40.33 L780.40,40.30 L780.83,40.28 L781.27,40.26 L781.70,40.23 L782.13,40.21 L782.57,40.19 L783.00,40.16 L783.44,40.14 L783.87,40.12 L784.31,40.09 L784.74,40.07 L785.17,40.05 L785.61,40.03 L786.04,40.00 L786.48,39.98 L786.91,39.96 L787.34,39.94 L787.78,39.91 L788.21,39.89 L788.65,39.87 L789.08,39.85 L789.52,39.83 L789.95,39.80 L790.38,39.78 L790.82,39.76 L791.25,39.74 L791.69,39.72 L792.12,39.70 L792.56,39.68 L792.99,39.65 L793.42,39.63 L793.86,39.61 L794.29,39.59 L794.73,39.57 L795.16,39.55 L795.60,39.53 L796.03,39.51 L796.46,39.49 L796.90,39.47 L797.33,39.45 L797.77,39.43 L798.20,39.41 L798.64,39.39 L799.07,39.37 L799.50,39.35 L799.94,39.33 L800.37,39.31 L800.81,39.29 L801.24,39.27 L801.68,39.25 L802.11,39.23 L802.54,39.21 L802.98,39.19 L803.41,39.17 L803.85,39.15 L804.28,39.13 L804.72,39.11 L805.15,39.09 L805.58,39.07 L806.02,39.05 L806.45,39.03 L806.89,39.02 L807.32,39.00 L807.76,38.98 L808.19,38.96 L808.62,38.94 L809.06,38.92 L809.49,38.90 L809.93,38.88 L810.36,38.87 L810.80,38.85 L811.23,38.83 L811.66,38.81 L812.10,38.79 L812.53,38.77 L812.97,38.76 L813.40,38.74 L813.84,38.72 L814.27,38.70 L814.70,38.68 L815.14,38.67 L815.57,38.65 L816.01,38.63 L816.44,38.61 L816.88,38.60 L817.31,38.58 L817.74,38.56 L818.18,38.54 L818.61,38.53 L819.05,38.51 L819.48,38.49 L819.92,38.47 L820.35,38.46 L820.78,38.44 L821.22,38.42 L821.65,38.40 L822.09,38.39 L822.52,38.37 L822.96,38.35 L823.39,38.34 L823.82,38.32 L824.26,38.30 L824.69,38.29 L825.13,38.27 L825.56,38.25 L826.00,38.23 L826.43,38.22 L826.86,38.20 L827.30,38.18 L827.73,38.17 L828.17,38.15 L828.60,38.13 L829.04,38.12 L829.47,38.10 L829.90,38.09 L830.34,38.07 L830.77,38.05 L831.21,38.04 L831.64,38.02 L832.08,38.00 L832.51,37.99 L832.94,37.97 L833.38,37.95 L833.81,37.94 L834.25,37.92 L834.68,37.91 L835.11,37.89 L835.55,37.87 L835.98,37.86 L836.42,37.84 L836.85,37.83 L837.29,37.81 L837.72,37.79 L838.15,37.78 L838.59,37.76 L839.02,37.75 L839.46,37.73 L839.89,37.72 L840.33,37.70 L840.76,37.68 L841.19,37.67 L841.63,37.65 L842.06,37.64 L842.50,37.62 L842.93,37.61 L843.37,37.59 L843.80,37.57 L844.23,37.56 L844.67,37.54 L845.10,37.53 L845.54,37.51 L845.97,37.50 L846.41,37.48 L846.84,37.47 L847.27,37.45 L847.71,37.44 L848.14,37.42 L848.58,37.40 L849.01,37.39 L849.45,37.37 L849.88,37.36 L850.31,37.34 L850.75,37.33 L851.18,37.31 L851.62,37.30 L852.05,37.28 L852.49,37.27 L852.92,37.25 L853.35,37.24 L853.79,37.22 L854.22,37.21 L854.66,37.19 L855.09,37.18 L855.53,37.16 L855.96,37.15 L856.39,37.13 L856.83,37.12 L857.26,37.10 L857.70,37.09 L858.13,37.07 L858.57,37.06 L859.00,37.04" fill="none" stroke="#ff0000" stroke-width="1.8" stroke-linejoin="round" clip-path="url(#cb)"/>
<path d="M512.02,232.45 L512.45,232.45 L512.88,232.45 L513.32,232.45 L513.75,232.45 L514.19,232.45 L514.62,232.45 L515.06,232.45 L515.49,232.45 L515.92,232.45 L516.36,232.45 L516.79,232.45 L517.23,232.45 L517.66,232.45 L518.10,232.45 L518.53,232.45 L518.96,232.45 L519.40,232.45 L519.83,232.45 L520.27,232.45 L520.70,232.45 L521.14,232.45 L521.57,232.45 L522.00,232.45 L522.44,232.45 L522.87,232.45 L523.31,232.45 L523.74,232.45 L524.18,232.45 L524.61,232.45 L525.04,232.45 L525.48,232.45 L525.91,232.45 L526.35,232.45 L526.78,232.45 L527.22,232.45 L527.65,232.45 L528.08,232.45 L528.52,232.45 L528.95,232.45 L529.39,232.45 L529.82,232.45 L530.26,232.43 L530.69,232.41 L531.12,232.38 L531.56,232.33 L531.99,232.28 L532.43,232.23 L532.86,232.16 L533.30,232.09 L533.73,232.01 L534.16,231.93 L534.60,231.84 L535.03,231.74 L535.47,231.65 L535.90,231.54 L536.34,231.42 L536.77,231.29 L537.20,231.14 L537.64,230.98 L538.07,230.81 L538.51,230.62 L538.94,230.42 L539.38,230.20 L539.81,229.97 L540.24,229.72 L540.68,229.46 L541.11,229.18 L541.55,228.88 L541.98,228.57 L542.42,228.25 L542.85,227.91 L543.28,227.55 L543.72,227.18 L544.15,226.79 L544.59,226.38 L545.02,225.96 L545.45,225.53 L545.89,225.08 L546.32,224.62 L546.76,224.14 L547.19,223.64 L547.63,223.14 L548.06,222.62 L548.49,222.08 L548.93,221.53 L549.36,220.97 L549.80,220.40 L550.23,219.81 L550.67,219.21 L551.10,218.60 L551.53,217.97 L551.97,217.34 L552.40,216.69 L552.84,216.04 L553.27,215.37 L553.71,214.69 L554.14,214.00 L554.57,213.30 L555.01,212.59 L555.44,211.87 L555.88,211.15 L556.31,210.41 L556.75,209.67 L557.18,208.91 L557.61,208.15 L558.05,207.38 L558.48,206.61 L558.92,205.82 L559.35,205.03 L559.79,204.24 L560.22,203.43 L560.65,202.62 L561.09,201.81 L561.52,200.99 L561.96,200.16 L562.39,199.33 L562.83,198.49 L563.26,197.65 L563.69,196.80 L564.13,195.95 L564.56,195.10 L565.00,194.24 L565.43,193.38 L565.87,192.51 L566.30,191.64 L566.73,190.77 L567.17,189.89 L567.60,189.01 L568.04,188.13 L568.47,187.25 L568.91,186.36 L569.34,185.48 L569.77,184.59 L570.21,183.70 L570.64,182.80 L571.08,181.91 L571.51,181.02 L571.95,180.12 L572.38,179.22 L572.81,178.33 L573.25,177.43 L573.68,176.53 L574.12,175.63 L574.55,174.74 L574.99,173.84 L575.42,172.94 L575.85,172.05 L576.29,171.16 L576.72,170.26 L577.16,169.37 L577.59,168.48 L578.03,167.59 L578.46,166.71 L578.89,165.82 L579.33,164.94 L579.76,164.06 L580.20,163.18 L580.63,162.31 L581.07,161.44 L581.50,160.57 L581.93,159.70 L582.37,158.84 L582.80,157.98 L583.24,157.12 L583.67,156.27 L584.11,155.42 L584.54,154.57 L584.97,153.73 L585.41,152.90 L585.84,152.06 L586.28,151.23 L586.71,150.41 L587.15,149.59 L587.58,148.77 L588.01,147.96 L588.45,147.15 L588.88,146.35 L589.32,145.55 L589.75,144.76 L590.19,143.97 L590.62,143.19 L591.05,142.41 L591.49,141.64 L591.92,140.87 L592.36,140.11 L592.79,139.36 L593.22,138.61 L593.66,137.86 L594.09,137.12 L594.53,136.39 L594.96,135.66 L595.40,134.94 L595.83,134.22 L596.26,133.51 L596.70,132.81 L597.13,132.11 L597.57,131.41 L598.00,130.73 L598.44,130.04 L598.87,129.37 L599.30,128.70 L599.74,128.03 L600.17,127.37 L600.61,126.72 L601.04,126.07 L601.48,125.42 L601.91,124.79 L602.34,124.15 L602.78,123.53 L603.21,122.90 L603.65,122.29 L604.08,121.67 L604.52,121.07 L604.95,120.47 L605.38,119.87 L605.82,119.28 L606.25,118.69 L606.69,118.11 L607.12,117.54 L607.56,116.96 L607.99,116.40 L608.42,115.84 L608.86,115.28 L609.29,114.73 L609.73,114.18 L610.16,113.64 L610.60,113.10 L611.03,112.57 L611.46,112.04 L611.90,111.52 L612.33,111.00 L612.77,110.48 L613.20,109.97 L613.64,109.47 L614.07,108.97 L614.50,108.47 L614.94,107.98 L615.37,107.49 L615.81,107.01 L616.24,106.53 L616.68,106.05 L617.11,105.58 L617.54,105.11 L617.98,104.65 L618.41,104.19 L618.85,103.74 L619.28,103.29 L619.72,102.84 L620.15,102.40 L620.58,101.96 L621.02,101.52 L621.45,101.09 L621.89,100.67 L622.32,100.24 L622.76,99.82 L623.19,99.41 L623.62,98.99 L624.06,98.59 L624.49,98.18 L624.93,97.78 L625.36,97.38 L625.80,96.99 L626.23,96.60 L626.66,96.21 L627.10,95.83 L627.53,95.45 L627.97,95.08 L628.40,94.70 L628.84,94.33 L629.27,93.97 L629.70,93.60 L630.14,93.24 L630.57,92.89 L631.01,92.54 L631.44,92.18 L631.88,91.84 L632.31,91.49 L632.74,91.15 L633.18,90.81 L633.61,90.48 L634.05,90.15 L634.48,89.82 L634.92,89.49 L635.35,89.17 L635.78,88.85 L636.22,88.53 L636.65,88.21 L637.09,87.90 L637.52,87.59 L637.96,87.28 L638.39,86.97 L638.82,86.67 L639.26,86.37 L639.69,86.07 L640.13,85.78 L640.56,85.48 L640.99,85.19 L641.43,84.90 L641.86,84.62 L642.30,84.33 L642.73,84.05 L643.17,83.77 L643.60,83.49 L644.03,83.22 L644.47,82.94 L644.90,82.67 L645.34,82.40 L645.77,82.13 L646.21,81.87 L646.64,81.60 L647.07,81.34 L647.51,81.08 L647.94,80.83 L648.38,80.57 L648.81,80.32 L649.25,80.06 L649.68,79.81 L650.11,79.56 L650.55,79.32 L650.98,79.07 L651.42,78.83 L651.85,78.58 L652.29,78.34 L652.72,78.11 L653.15,77.87 L653.59,77.63 L654.02,77.40 L654.46,77.17 L654.89,76.93 L655.33,76.71 L655.76,76.48 L656.19,76.25 L656.63,76.02 L657.06,75.80 L657.50,75.58 L657.93,75.36 L658.37,75.14 L658.80,74.92 L659.23,74.70 L659.67,74.49 L660.10,74.27 L660.54,74.06 L660.97,73.84 L661.41,73.63 L661.84,73.42 L662.27,73.22 L662.71,73.01 L663.14,72.80 L663.58,72.60 L664.01,72.39 L664.45,72.19 L664.88,71.99 L665.31,71.79 L665.75,71.59 L666.18,71.39 L666.62,71.19 L667.05,71.00 L667.49,70.80 L667.92,70.61 L668.35,70.42 L668.79,70.23 L669.22,70.04 L669.66,69.85 L670.09,69.66 L670.53,69.47 L670.96,69.29 L671.39,69.10 L671.83,68.92 L672.26,68.74 L672.70,68.55 L673.13,68.37 L673.57,68.20 L674.00,68.02 L674.43,67.84 L674.87,67.66 L675.30,67.49 L675.74,67.31 L676.17,67.14 L676.61,66.97 L677.04,66.80 L677.47,66.63 L677.91,66.46 L678.34,66.29 L678.78,66.12 L679.21,65.96 L679.65,65.79 L680.08,65.63 L680.51,65.47 L680.95,65.30 L681.38,65.14 L681.82,64.98 L682.25,64.82 L682.69,64.66 L683.12,64.51 L683.55,64.35 L683.99,64.20 L684.42,64.04 L684.86,63.89 L685.29,63.73 L685.73,63.58 L686.16,63.43 L686.59,63.28 L687.03,63.13 L687.46,62.98 L687.90,62.84 L688.33,62.69 L688.76,62.55 L689.20,62.40 L689.63,62.26 L690.07,62.11 L690.50,61.97 L690.94,61.83 L691.37,61.69 L691.80,61.55 L692.24,61.41 L692.67,61.28 L693.11,61.14 L693.54,61.00 L693.98,60.87 L694.41,60.73 L694.84,60.60 L695.28,60.47 L695.71,60.34 L696.15,60.21 L696.58,60.08 L697.02,59.95 L697.45,59.82 L697.88,59.69 L698.32,59.56 L698.75,59.44 L699.19,59.31 L699.62,59.19 L700.06,59.06 L700.49,58.94 L700.92,58.82 L701.36,58.70 L701.79,58.58 L702.23,58.46 L702.66,58.34 L703.10,58.22 L703.53,58.10 L703.96,57.99 L704.40,57.87 L704.83,57.76 L705.27,57.64 L705.70,57.53 L706.14,57.41 L706.57,57.30 L707.00,57.19 L707.44,57.08 L707.87,56.97 L708.31,56.86 L708.74,56.75 L709.18,56.64 L709.61,56.54 L710.04,56.43 L710.48,56.33 L710.91,56.22 L711.35,56.12 L711.78,56.01 L712.22,55.91 L712.65,55.81 L713.08,55.71 L713.52,55.60 L713.95,55.50 L714.39,55.40 L714.82,55.31 L715.26,55.21 L715.69,55.11 L716.12,55.01 L716.56,54.92 L716.99,54.82 L717.43,54.73 L717.86,54.63 L718.30,54.54 L718.73,54.45 L719.16,54.35 L719.60,54.26 L720.03,54.17 L720.47,54.08 L720.90,53.99 L721.34,53.90 L721.77,53.81 L722.20,53.73 L722.64,53.64 L723.07,53.55 L723.51,53.47 L723.94,53.38 L724.38,53.30 L724.81,53.21 L725.24,53.13 L725.68,53.05 L726.11,52.96 L726.55,52.88 L726.98,52.80 L727.42,52.72 L727.85,52.64 L728.28,52.56 L728.72,52.48 L729.15,52.41 L729.59,52.33 L730.02,52.25 L730.46,52.17 L730.89,52.10 L731.32,52.02 L731.76,51.95 L732.19,51.88 L732.63,51.80 L733.06,51.73 L733.50,51.66 L733.93,51.58 L734.36,51.51 L734.80,51.44 L735.23,51.37 L735.67,51.30 L736.10,51.23 L736.54,51.16 L736.97,51.10 L737.40,51.03 L737.84,50.96 L738.27,50.89 L738.71,50.83 L739.14,50.76 L739.57,50.70 L740.01,50.63 L740.44,50.57 L740.88,50.50 L741.31,50.44 L741.75,50.38 L742.18,50.32 L742.61,50.25 L743.05,50.19 L743.48,50.13 L743.92,50.07 L744.35,50.01 L744.79,49.95 L745.22,49.89 L745.65,49.83 L746.09,49.77 L746.52,49.71 L746.96,49.66 L747.39,49.60 L747.83,49.54 L748.26,49.48 L748.69,49.43 L749.13,49.37 L749.56,49.32 L750.00,49.26 L750.43,49.21 L750.87,49.15 L751.30,49.10 L751.73,49.04 L752.17,48.99 L752.60,48.94 L753.04,48.89 L753.47,48.83 L753.91,48.78 L754.34,48.73 L754.77,48.68 L755.21,48.63 L755.64,48.58 L756.08,48.53 L756.51,48.48 L756.95,48.43 L757.38,48.38 L757.81,48.33 L758.25,48.28 L758.68,48.23 L759.12,48.18 L759.55,48.13 L759.99,48.09 L760.42,48.04 L760.85,47.99 L761.29,47.95 L761.72,47.90 L762.16,47.85 L762.59,47.81 L763.03,47.76 L763.46,47.72 L763.89,47.67 L764.33,47.63 L764.76,47.58 L765.20,47.54 L765.63,47.49 L766.07,47.45 L766.50,47.41 L766.93,47.36 L767.37,47.32 L767.80,47.28 L768.24,47.23 L768.67,47.19 L769.11,47.15 L769.54,47.11 L769.97,47.06 L770.41,47.02 L770.84,46.98 L771.28,46.94 L771.71,46.90 L772.15,46.86 L772.58,46.82 L773.01,46.78 L773.45,46.74 L773.88,46.70 L774.32,46.66 L774.75,46.62 L775.19,46.58 L775.62,46.54 L776.05,46.50 L776.49,46.46 L776.92,46.42 L777.36,46.39 L777.79,46.35 L778.23,46.31 L778.66,46.27 L779.09,46.23 L779.53,46.20 L779.96,46.16 L780.40,46.12 L780.83,46.09 L781.27,46.05 L781.70,46.01 L782.13,45.98 L782.57,45.94 L783.00,45.90 L783.44,45.87 L783.87,45.83 L784.31,45.79 L784.74,45.76 L785.17,45.72 L785.61,45.69 L786.04,45.65 L786.48,45.62 L786.91,45.58 L787.34,45.55 L787.78,45.51 L788.21,45.48 L788.65,45.44 L789.08,45.41 L789.52,45.38 L789.95,45.34 L790.38,45.31 L790.82,45.27 L791.25,45.24 L791.69,45.21 L792.12,45.17 L792.56,45.14 L792.99,45.11 L793.42,45.07 L793.86,45.04 L794.29,45.01 L794.73,44.97 L795.16,44.94 L795.60,44.91 L796.03,44.88 L796.46,44.84 L796.90,44.81 L797.33,44.78 L797.77,44.75 L798.20,44.71 L798.64,44.68 L799.07,44.65 L799.50,44.62 L799.94,44.59 L800.37,44.56 L800.81,44.52 L801.24,44.49 L801.68,44.46 L802.11,44.43 L802.54,44.40 L802.98,44.37 L803.41,44.34 L803.85,44.30 L804.28,44.27 L804.72,44.24 L805.15,44.21 L805.58,44.18 L806.02,44.15 L806.45,44.12 L806.89,44.09 L807.32,44.06 L807.76,44.03 L808.19,44.00 L808.62,43.97 L809.06,43.94 L809.49,43.91 L809.93,43.87 L810.36,43.84 L810.80,43.81 L811.23,43.78 L811.66,43.75 L812.10,43.72 L812.53,43.69 L812.97,43.66 L813.40,43.63 L813.84,43.60 L814.27,43.57 L814.70,43.54 L815.14,43.51 L815.57,43.48 L816.01,43.45 L816.44,43.43 L816.88,43.40 L817.31,43.37 L817.74,43.34 L818.18,43.31 L818.61,43.28 L819.05,43.25 L819.48,43.22 L819.92,43.19 L820.35,43.16 L820.78,43.13 L821.22,43.10 L821.65,43.07 L822.09,43.04 L822.52,43.01 L822.96,42.98 L823.39,42.95 L823.82,42.92 L824.26,42.89 L824.69,42.86 L825.13,42.84 L825.56,42.81 L826.00,42.78 L826.43,42.75 L826.86,42.72 L827.30,42.69 L827.73,42.66 L828.17,42.63 L828.60,42.60 L829.04,42.57 L829.47,42.54 L829.90,42.51 L830.34,42.48 L830.77,42.45 L831.21,42.43 L831.64,42.40 L832.08,42.37 L832.51,42.34 L832.94,42.31 L833.38,42.28 L833.81,42.25 L834.25,42.22 L834.68,42.19 L835.11,42.16 L835.55,42.13 L835.98,42.10 L836.42,42.07 L836.85,42.04 L837.29,42.01 L837.72,41.98 L838.15,41.96 L838.59,41.93 L839.02,41.90 L839.46,41.87 L839.89,41.84 L840.33,41.81 L840.76,41.78 L841.19,41.75 L841.63,41.72 L842.06,41.69 L842.50,41.66 L842.93,41.63 L843.37,41.60 L843.80,41.57 L844.23,41.54 L844.67,41.51 L845.10,41.48 L845.54,41.45 L845.97,41.42 L846.41,41.39 L846.84,41.36 L847.27,41.33 L847.71,41.30 L848.14,41.27 L848.58,41.24 L849.01,41.21 L849.45,41.18 L849.88,41.15 L850.31,41.12 L850.75,41.09 L851.18,41.06 L851.62,41.03 L852.05,41.00 L852.49,40.97 L852.92,40.94 L853.35,40.91 L853.79,40.88 L854.22,40.85 L854.66,40.82 L855.09,40.79 L855.53,40.76 L855.96,40.73 L856.39,40.69 L856.83,40.66 L857.26,40.63 L857.70,40.60 L858.13,40.57 L858.57,40.54 L859.00,40.51" fill="none" stroke="#0000ff" stroke-width="1.8" stroke-linejoin="round" clip-path="url(#cb)"/>
<line x1="519.80" y1="232.6" x2="519.80" y2="230.2" class="t"/>
<line x1="528.46" y1="232.6" x2="528.46" y2="230.2" class="t"/>
<line x1="528.46" y1="18.95" x2="528.46" y2="20.87" class="t2"/>
<line x1="537.12" y1="232.6" x2="537.12" y2="230.2" class="t"/>
<line x1="545.78" y1="232.6" x2="545.78" y2="230.2" class="t"/>
<line x1="545.78" y1="18.95" x2="545.78" y2="20.87" class="t2"/>
<line x1="554.43" y1="232.6" x2="554.43" y2="229.0" class="t"/>
<line x1="563.09" y1="232.6" x2="563.09" y2="230.2" class="t"/>
<line x1="563.09" y1="18.95" x2="563.09" y2="20.87" class="t2"/>
<line x1="571.75" y1="232.6" x2="571.75" y2="230.2" class="t"/>
<line x1="580.41" y1="232.6" x2="580.41" y2="230.2" class="t"/>
<line x1="580.41" y1="18.95" x2="580.41" y2="20.87" class="t2"/>
<line x1="589.07" y1="232.6" x2="589.07" y2="230.2" class="t"/>
<line x1="597.73" y1="232.6" x2="597.73" y2="229.0" class="t"/>
<line x1="597.73" y1="18.95" x2="597.73" y2="21.83" class="t2"/>
<line x1="606.39" y1="232.6" x2="606.39" y2="230.2" class="t"/>
<line x1="615.05" y1="232.6" x2="615.05" y2="230.2" class="t"/>
<line x1="615.05" y1="18.95" x2="615.05" y2="20.87" class="t2"/>
<line x1="623.71" y1="232.6" x2="623.71" y2="230.2" class="t"/>
<line x1="632.37" y1="232.6" x2="632.37" y2="230.2" class="t"/>
<line x1="632.37" y1="18.95" x2="632.37" y2="20.87" class="t2"/>
<line x1="641.02" y1="232.6" x2="641.02" y2="229.0" class="t"/>
<line x1="649.68" y1="232.6" x2="649.68" y2="230.2" class="t"/>
<line x1="649.68" y1="18.95" x2="649.68" y2="20.87" class="t2"/>
<line x1="658.34" y1="232.6" x2="658.34" y2="230.2" class="t"/>
<line x1="667.00" y1="232.6" x2="667.00" y2="230.2" class="t"/>
<line x1="667.00" y1="18.95" x2="667.00" y2="20.87" class="t2"/>
<line x1="675.66" y1="232.6" x2="675.66" y2="230.2" class="t"/>
<line x1="684.32" y1="232.6" x2="684.32" y2="229.0" class="t"/>
<line x1="684.32" y1="18.95" x2="684.32" y2="21.83" class="t2"/>
<line x1="692.98" y1="232.6" x2="692.98" y2="230.2" class="t"/>
<line x1="701.64" y1="232.6" x2="701.64" y2="230.2" class="t"/>
<line x1="701.64" y1="18.95" x2="701.64" y2="20.87" class="t2"/>
<line x1="710.30" y1="232.6" x2="710.30" y2="230.2" class="t"/>
<line x1="718.96" y1="232.6" x2="718.96" y2="230.2" class="t"/>
<line x1="718.96" y1="18.95" x2="718.96" y2="20.87" class="t2"/>
<line x1="727.62" y1="232.6" x2="727.62" y2="229.0" class="t"/>
<line x1="736.27" y1="232.6" x2="736.27" y2="230.2" class="t"/>
<line x1="736.27" y1="18.95" x2="736.27" y2="20.87" class="t2"/>
<line x1="744.93" y1="232.6" x2="744.93" y2="230.2" class="t"/>
<line x1="753.59" y1="232.6" x2="753.59" y2="230.2" class="t"/>
<line x1="753.59" y1="18.95" x2="753.59" y2="20.87" class="t2"/>
<line x1="762.25" y1="232.6" x2="762.25" y2="230.2" class="t"/>
<line x1="770.91" y1="232.6" x2="770.91" y2="229.0" class="t"/>
<line x1="770.91" y1="18.95" x2="770.91" y2="21.83" class="t2"/>
<line x1="779.57" y1="232.6" x2="779.57" y2="230.2" class="t"/>
<line x1="788.23" y1="232.6" x2="788.23" y2="230.2" class="t"/>
<line x1="788.23" y1="18.95" x2="788.23" y2="20.87" class="t2"/>
<line x1="796.89" y1="232.6" x2="796.89" y2="230.2" class="t"/>
<line x1="805.55" y1="232.6" x2="805.55" y2="230.2" class="t"/>
<line x1="805.55" y1="18.95" x2="805.55" y2="20.87" class="t2"/>
<line x1="814.20" y1="232.6" x2="814.20" y2="229.0" class="t"/>
<line x1="822.86" y1="232.6" x2="822.86" y2="230.2" class="t"/>
<line x1="822.86" y1="18.95" x2="822.86" y2="20.87" class="t2"/>
<line x1="831.52" y1="232.6" x2="831.52" y2="230.2" class="t"/>
<line x1="840.18" y1="232.6" x2="840.18" y2="230.2" class="t"/>
<line x1="840.18" y1="18.95" x2="840.18" y2="20.87" class="t2"/>
<line x1="848.84" y1="232.6" x2="848.84" y2="230.2" class="t"/>
<line x1="857.50" y1="232.6" x2="857.50" y2="229.0" class="t"/>
<line x1="857.50" y1="18.95" x2="857.50" y2="21.83" class="t2"/>
<line x1="512.25" y1="232.60" x2="515.85" y2="232.60" class="t"/>
<line x1="857.5" y1="232.60" x2="853.9" y2="232.60" class="t"/>
<line x1="512.25" y1="219.25" x2="514.65" y2="219.25" class="t"/>
<line x1="857.5" y1="219.25" x2="855.1" y2="219.25" class="t"/>
<line x1="512.25" y1="205.89" x2="514.65" y2="205.89" class="t"/>
<line x1="857.5" y1="205.89" x2="855.1" y2="205.89" class="t"/>
<line x1="512.25" y1="192.54" x2="514.65" y2="192.54" class="t"/>
<line x1="857.5" y1="192.54" x2="855.1" y2="192.54" class="t"/>
<line x1="512.25" y1="179.19" x2="515.85" y2="179.19" class="t"/>
<line x1="857.5" y1="179.19" x2="853.9" y2="179.19" class="t"/>
<line x1="512.25" y1="165.83" x2="514.65" y2="165.83" class="t"/>
<line x1="857.5" y1="165.83" x2="855.1" y2="165.83" class="t"/>
<line x1="512.25" y1="152.48" x2="514.65" y2="152.48" class="t"/>
<line x1="857.5" y1="152.48" x2="855.1" y2="152.48" class="t"/>
<line x1="512.25" y1="139.13" x2="514.65" y2="139.13" class="t"/>
<line x1="857.5" y1="139.13" x2="855.1" y2="139.13" class="t"/>
<line x1="512.25" y1="125.77" x2="515.85" y2="125.77" class="t"/>
<line x1="857.5" y1="125.77" x2="853.9" y2="125.77" class="t"/>
<line x1="512.25" y1="112.42" x2="514.65" y2="112.42" class="t"/>
<line x1="857.5" y1="112.42" x2="855.1" y2="112.42" class="t"/>
<line x1="512.25" y1="99.07" x2="514.65" y2="99.07" class="t"/>
<line x1="857.5" y1="99.07" x2="855.1" y2="99.07" class="t"/>
<line x1="512.25" y1="85.72" x2="514.65" y2="85.72" class="t"/>
<line x1="857.5" y1="85.72" x2="855.1" y2="85.72" class="t"/>
<line x1="512.25" y1="72.36" x2="515.85" y2="72.36" class="t"/>
<line x1="857.5" y1="72.36" x2="853.9" y2="72.36" class="t"/>
<line x1="512.25" y1="59.01" x2="514.65" y2="59.01" class="t"/>
<line x1="857.5" y1="59.01" x2="855.1" y2="59.01" class="t"/>
<line x1="512.25" y1="45.66" x2="514.65" y2="45.66" class="t"/>
<line x1="857.5" y1="45.66" x2="855.1" y2="45.66" class="t"/>
<line x1="512.25" y1="32.30" x2="514.65" y2="32.30" class="t"/>
<line x1="857.5" y1="32.30" x2="855.1" y2="32.30" class="t"/>
<line x1="512.25" y1="18.95" x2="515.85" y2="18.95" class="t"/>
<line x1="857.5" y1="18.95" x2="853.9" y2="18.95" class="t"/>
<text x="554.43" y="246.1" class="tk" text-anchor="middle">0.5</text>
<text x="597.73" y="246.1" class="tk" text-anchor="middle">1.0</text>
<text x="641.02" y="246.1" class="tk" text-anchor="middle">1.5</text>
<text x="684.32" y="246.1" class="tk" text-anchor="middle">2.0</text>
<text x="727.62" y="246.1" class="tk" text-anchor="middle">2.5</text>
<text x="770.91" y="246.1" class="tk" text-anchor="middle">3.0</text>
<text x="814.20" y="246.1" class="tk" text-anchor="middle">3.5</text>
<text x="857.50" y="246.1" class="tk" text-anchor="middle">4.0</text>
<text x="509.45" y="236.70" class="tk" text-anchor="end">0.0</text>
<text x="509.45" y="183.29" class="tk" text-anchor="end">0.2</text>
<text x="509.45" y="129.88" class="tk" text-anchor="end">0.4</text>
<text x="509.45" y="76.46" class="tk" text-anchor="end">0.6</text>
<text x="509.45" y="23.05" class="tk" text-anchor="end">0.8</text>
<text x="684.48" y="265.9" class="al" text-anchor="middle">T</text>
<text transform="translate(486.65,125.77) rotate(-90)" class="yl" text-anchor="middle">LQU</text>
<text x="685.48" y="19.3" class="ti" text-anchor="middle">(b)</text>
<line x1="762.00" y1="139.40" x2="779.20" y2="139.40" stroke="#000000" stroke-width="1.6"/>
<text x="786.60" y="144.15" class="lg">b=0.5</text>
<line x1="762.00" y1="158.30" x2="779.20" y2="158.30" stroke="#00ff00" stroke-width="1.6"/>
<text x="786.60" y="163.05" class="lg">b=1</text>
<line x1="762.00" y1="177.20" x2="779.20" y2="177.20" stroke="#ff0000" stroke-width="1.6"/>
<text x="786.60" y="181.95" class="lg">b=1.5</text>
<line x1="762.00" y1="196.10" x2="779.20" y2="196.10" stroke="#0000ff" stroke-width="1.6"/>
<text x="786.60" y="200.85" class="lg">b=2</text>
<rect x="7" y="5.6" width="885.3" height="269.4" fill="none" stroke="#000" stroke-width="2"/>
<line x1="449.7" y1="5.6" x2="449.7" y2="275" stroke="#000" stroke-width="1.5"/>
</svg>
</body></html>
